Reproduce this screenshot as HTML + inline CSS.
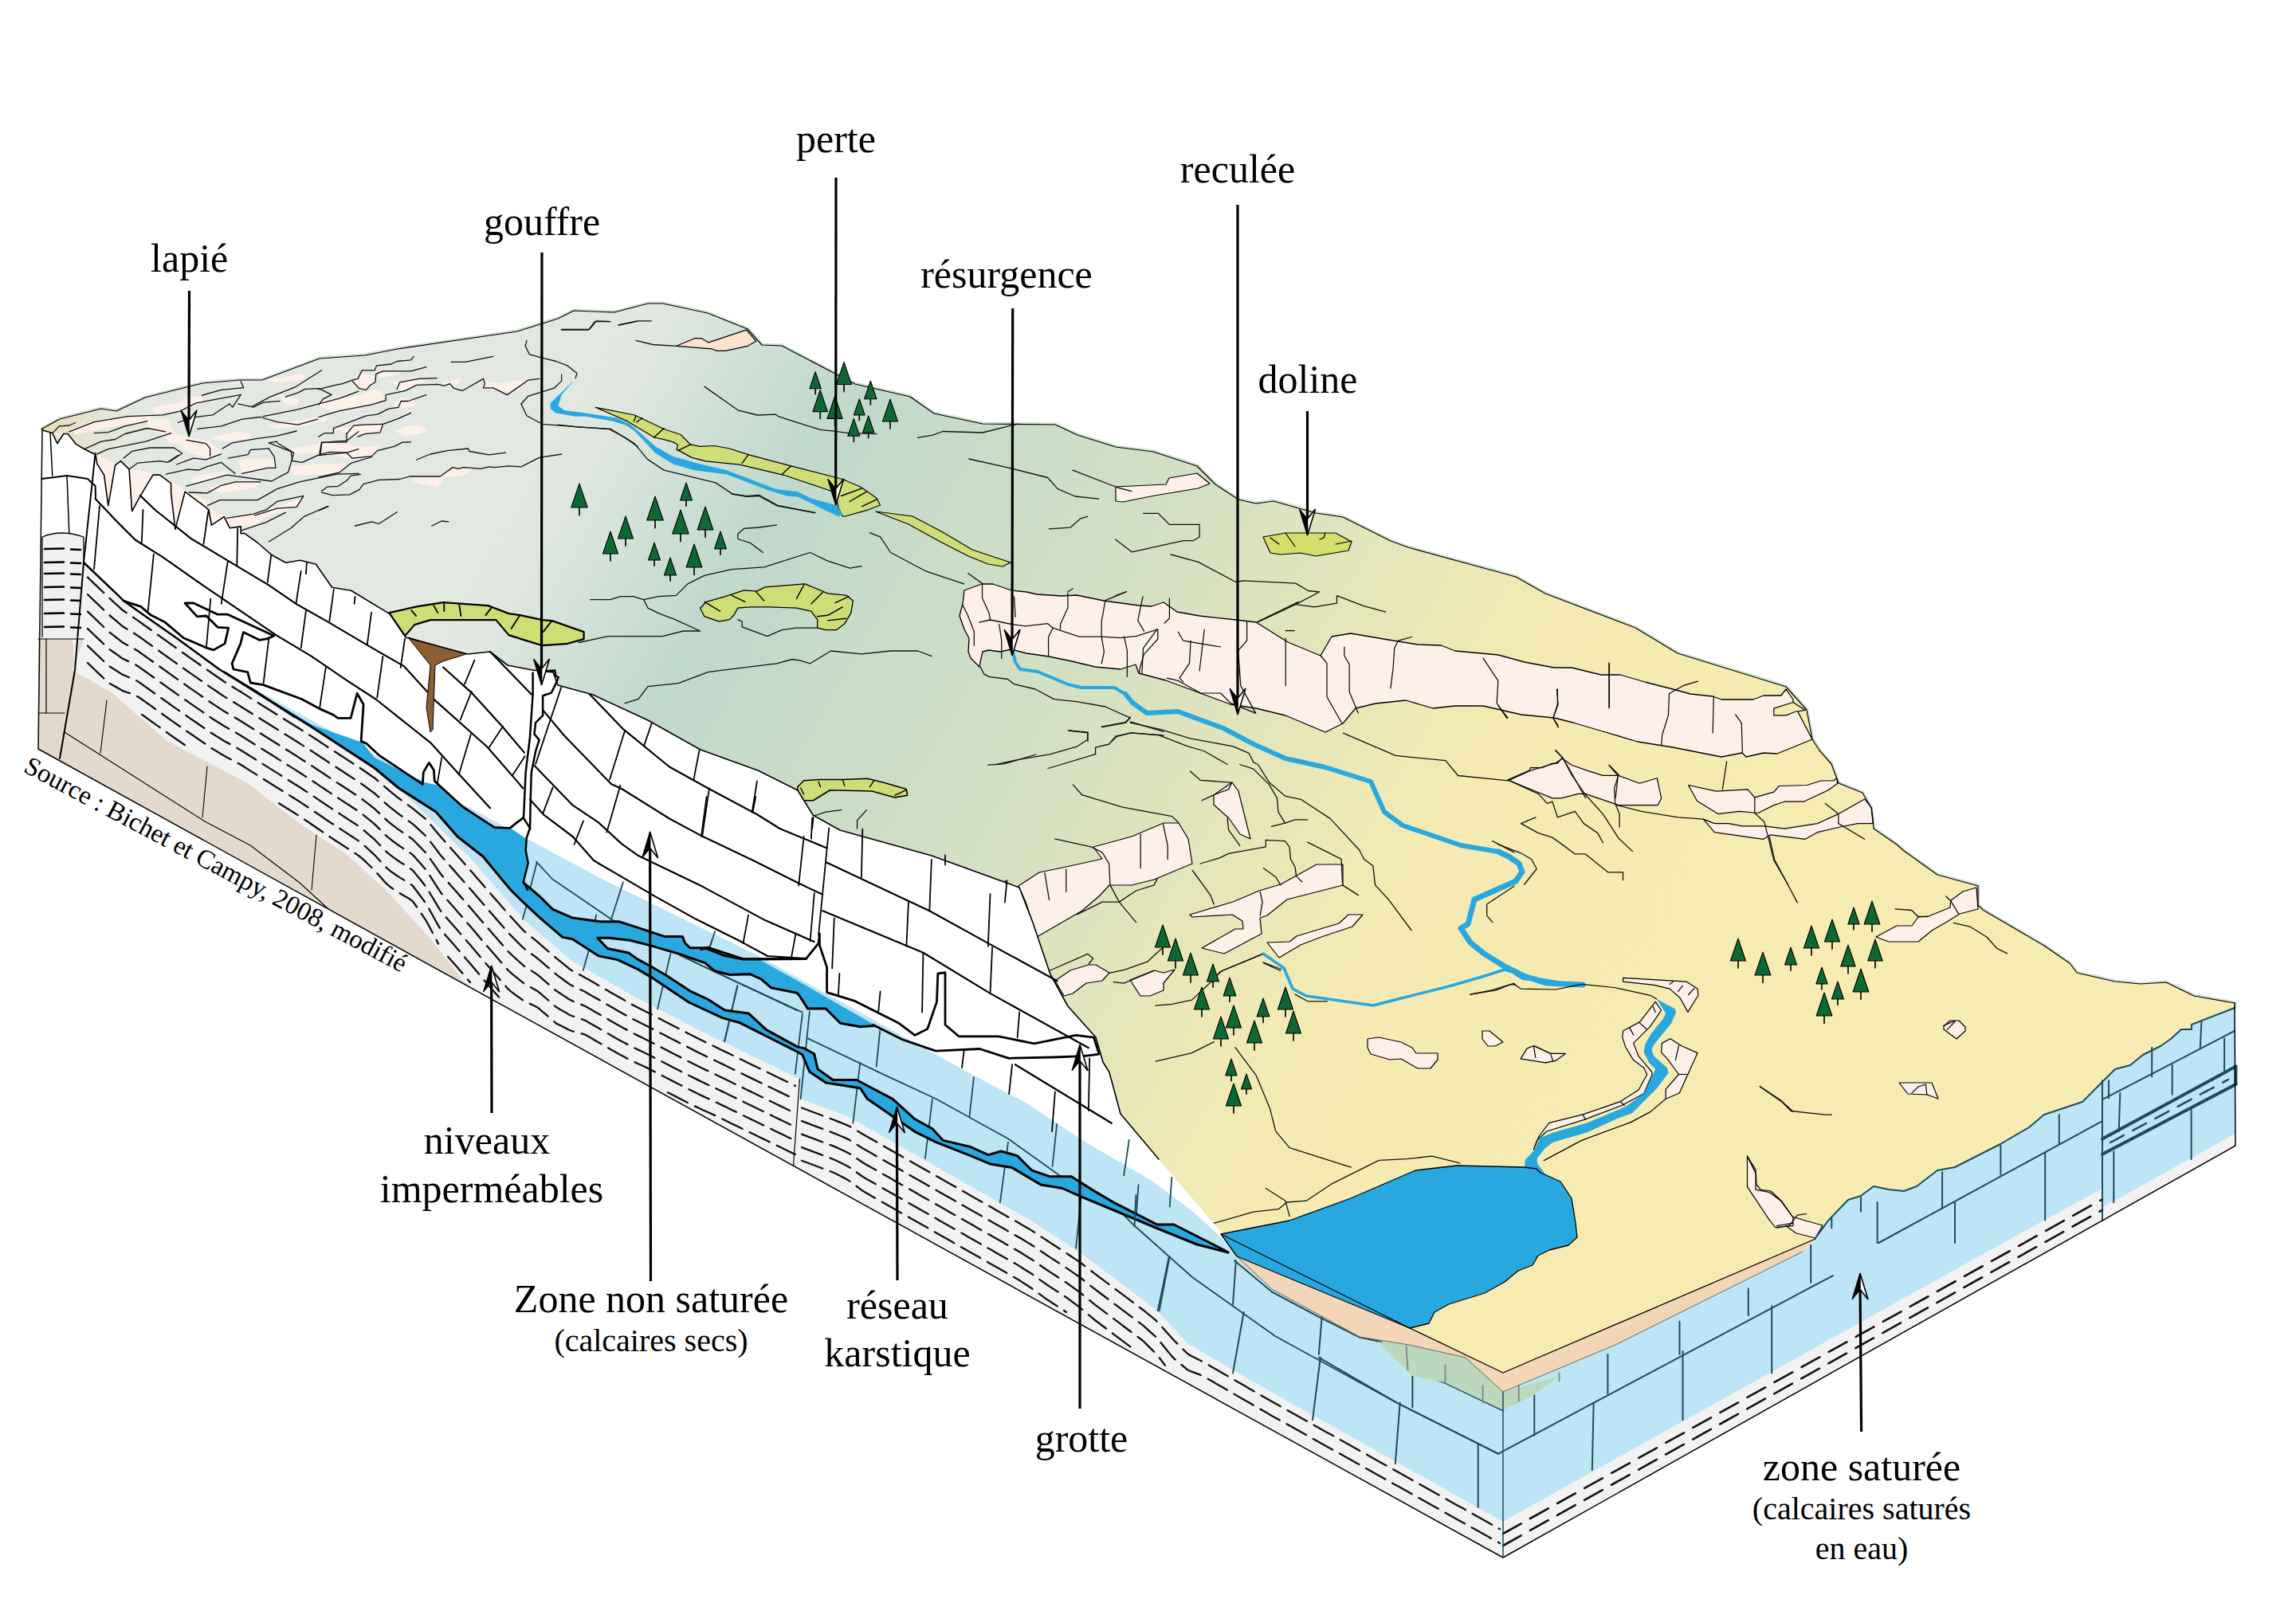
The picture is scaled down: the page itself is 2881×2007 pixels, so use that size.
<!DOCTYPE html>
<html><head><meta charset="utf-8"><style>
html,body{margin:0;padding:0;background:#fff;overflow:hidden}
svg{display:block}
text{font-family:"Liberation Serif",serif;fill:#000}
</style></head><body>
<svg xmlns="http://www.w3.org/2000/svg" width="2881" height="2007" viewBox="0 0 2881 2007">
<defs>
<linearGradient id="gs" gradientUnits="userSpaceOnUse" x1="560" y1="420" x2="2150" y2="1330"><stop offset="0" stop-color="#e3e9e2"/><stop offset="0.12" stop-color="#e1e8e0"/><stop offset="0.25" stop-color="#bfd9cc"/><stop offset="0.5" stop-color="#d4e0c2"/><stop offset="0.76" stop-color="#f5ebb2"/><stop offset="1" stop-color="#f6ecb1"/></linearGradient>
<linearGradient id="gy" gradientUnits="userSpaceOnUse" x1="60" y1="515" x2="200" y2="540"><stop offset="0" stop-color="#e9dcb4" stop-opacity="0.95"/><stop offset="1" stop-color="#e3e8df" stop-opacity="0"/></linearGradient>
</defs>
<polygon points="53,538 75,526 127,513 146,516 182,499 254,481 301,477 329,477 401,450 458,446 499,438 649,416 700,400 720,390 771,392 813,381 832,381 888,393 938,413 956,433 981,434 1048,469 1073,482 1142,498 1172,519 1233,532 1324,533 1352,546 1400,561 1447,567 1502,585 1525,608 1554,627 1576,632 1598,629 1651,644 1685,649 1745,679 1767,687 1902,724 1939,745 2052,788 2105,820 2241,862 2267,891 2274,928 2283,942 2298,959 2307,983 2337,995 2348,1014 2351,1040 2380,1060 2389,1068 2431,1098 2482,1112 2482,1136 2488,1142 2565,1187 2597,1209 2606,1221 2654,1232 2686,1235 2718,1233 2753,1250 2804,1259 2804,1265 2750,1286 2750,1292 2737,1292 2724,1304 2711,1313 2689,1324 2673,1337 2654,1342 2641,1355 2613,1383 2565,1399 2546,1415 2510,1436 2453,1465 2431,1469 2405,1489 2389,1495 2370,1493 2351,1489 2335,1501 2319,1506 2294,1532 2278,1554 2278,1555 1886,1723 1768,1667 1552,1577 1552,1577 1537,1552 1454,1455 1406,1398 1392,1346 1384,1333 1375,1302 1340,1263 1318,1223 1296,1158 1279,1114 1169,1074 1054,1042 1020,1023 1001,992 951,967 879,941 813,904 744,872 700,860 694,844 668,841 637,835 615,818 587,821 509,800 488.7,770.4 440.6,741.3 416.6,737.3 396.5,708.3 376.5,703.3 358.5,706.3 340.4,696.2 323,681 306.4,669.2 302.2,669.7 302.2,660.9 288.2,662.7 281.2,648.7 265.4,659.2 261.9,639.9 253.2,632.9 232.1,617.2 219.9,664.4 214.6,618.9 214.6,606.7 200.6,596.1 191.9,596.1 176.1,622.4 165.6,641.7 162.1,589.1 151.6,578.6 144.6,583.9 135.8,634.7 130.6,596.1 121.8,582.1 120,570.8 106,563.7 95.5,557.6 85,544.5 79.8,544.5 71.9,556.7 65.8,543.6 53.5,540.1" fill="url(#gs)" stroke="#cfe0d0" stroke-width="5" stroke-linejoin="round" />
<polygon points="53,538 75,526 127,513 146,516 182,499 254,481 301,477 329,477 401,450 458,446 499,438 649,416 700,400 720,390 771,392 813,381 832,381 888,393 938,413 956,433 981,434 1048,469 1073,482 1142,498 1172,519 1233,532 1324,533 1352,546 1400,561 1447,567 1502,585 1525,608 1554,627 1576,632 1598,629 1651,644 1685,649 1745,679 1767,687 1902,724 1939,745 2052,788 2105,820 2241,862 2267,891 2274,928 2283,942 2298,959 2307,983 2337,995 2348,1014 2351,1040 2380,1060 2389,1068 2431,1098 2482,1112 2482,1136 2488,1142 2565,1187 2597,1209 2606,1221 2654,1232 2686,1235 2718,1233 2753,1250 2804,1259 2804,1265 2750,1286 2750,1292 2737,1292 2724,1304 2711,1313 2689,1324 2673,1337 2654,1342 2641,1355 2613,1383 2565,1399 2546,1415 2510,1436 2453,1465 2431,1469 2405,1489 2389,1495 2370,1493 2351,1489 2335,1501 2319,1506 2294,1532 2278,1554 2278,1555 1886,1723 1768,1667 1552,1577 1552,1577 1537,1552 1454,1455 1406,1398 1392,1346 1384,1333 1375,1302 1340,1263 1318,1223 1296,1158 1279,1114 1169,1074 1054,1042 1020,1023 1001,992 951,967 879,941 813,904 744,872 700,860 694,844 668,841 637,835 615,818 587,821 509,800 488.7,770.4 440.6,741.3 416.6,737.3 396.5,708.3 376.5,703.3 358.5,706.3 340.4,696.2 323,681 306.4,669.2 302.2,669.7 302.2,660.9 288.2,662.7 281.2,648.7 265.4,659.2 261.9,639.9 253.2,632.9 232.1,617.2 219.9,664.4 214.6,618.9 214.6,606.7 200.6,596.1 191.9,596.1 176.1,622.4 165.6,641.7 162.1,589.1 151.6,578.6 144.6,583.9 135.8,634.7 130.6,596.1 121.8,582.1 120,570.8 106,563.7 95.5,557.6 85,544.5 79.8,544.5 71.9,556.7 65.8,543.6 53.5,540.1" fill="url(#gs)" stroke="none" stroke-width="0" stroke-linejoin="round" />
<polygon points="53,538 75,526 127,513 146,516 182,499 254,481 301,477 300,520 200,560 119,570 53,541" fill="url(#gy)" stroke="none" stroke-width="0" stroke-linejoin="round" />
<polygon points="190.1,512.1 225.1,505.1 233.9,498.1 253.1,498.1 254.9,505.1 228.6,515.6 195.3,519.1" fill="#fdf0e8" stroke="none" stroke-width="0" stroke-linejoin="round" />
<polygon points="184.8,526.1 211.1,526.1 218.1,543.6 235.6,548.8 263.6,554.1 277.6,568.1 261.9,575.1 235.6,568.1 225.1,557.6 211.1,555.8 205.8,545.3 186.6,540.1" fill="#fdf0e8" stroke="none" stroke-width="0" stroke-linejoin="round" />
<polygon points="261.9,550.6 281.1,545.3 298.7,541.8 314.4,545.3 312.7,550.6 282.9,554.1" fill="#fdf0e8" stroke="none" stroke-width="0" stroke-linejoin="round" />
<polygon points="333.7,477 351.2,473.5 379.2,469.2 382.7,475.3 377.5,477.9 344.2,480.6" fill="#fdf0e8" stroke="none" stroke-width="0" stroke-linejoin="round" />
<polygon points="335.4,534.8 365.2,529.6 400.2,522.6 412.5,526.1 382.7,534.8 347.7,538.3" fill="#fdf0e8" stroke="none" stroke-width="0" stroke-linejoin="round" />
<polygon points="347.7,494.6 375.7,501.6 372.2,509.4 358.2,506.8" fill="#fdf0e8" stroke="none" stroke-width="0" stroke-linejoin="round" />
<polygon points="405.5,501.6 435.2,498.1 449.9,499.8 449.9,505.1 428.2,506.8 407.2,505.1" fill="#fdf0e8" stroke="none" stroke-width="0" stroke-linejoin="round" />
<polygon points="298.7,578.6 319.7,575.1 344.2,576.9 345.9,585.6 303.9,592.6" fill="#fdf0e8" stroke="none" stroke-width="0" stroke-linejoin="round" />
<polygon points="366.9,562.9 400.2,557.6 435.2,558.5 449.9,561.1 449.9,573.4 435.2,575.1 409,568.1 368.7,569.9" fill="#fdf0e8" stroke="none" stroke-width="0" stroke-linejoin="round" />
<polygon points="242.6,597.9 284.6,590.9 286.4,596.1 260.1,603.1 239.1,610.1" fill="#fdf0e8" stroke="none" stroke-width="0" stroke-linejoin="round" />
<polygon points="260.1,611.9 295.2,604.9 326.7,606.6 319.7,611.9 277.6,618.9" fill="#fdf0e8" stroke="none" stroke-width="0" stroke-linejoin="round" />
<polygon points="365.2,585.6 400.2,582.1 433.5,582.1 431.7,589.1 391.5,596.1 366.9,596.1" fill="#fdf0e8" stroke="none" stroke-width="0" stroke-linejoin="round" />
<polygon points="282.9,650.4 307.4,645.2 330.2,641.7 365.2,629.4 379.2,625.9 374,636.4 340.7,645.2 317.9,659.2 289.9,662.7" fill="#fdf0e8" stroke="none" stroke-width="0" stroke-linejoin="round" />
<polygon points="235.6,617.1 254.9,625.9 267.1,632.9 256.6,636.4 242.6,627.6" fill="#fdf0e8" stroke="none" stroke-width="0" stroke-linejoin="round" />
<polygon points="64,543.6 85,543.6 99,561.1 120,570.7 144.6,582.1 162.1,589.1 183.1,592.6 200.6,596.1 225.1,610.1 253.1,632.9 282.9,648.7 302.2,660.9 288.1,662.7 265.4,659.2 261.9,639.9 232.1,617.1 219.9,664.4 214.6,618.9 214.6,606.6 200.6,596.1 191.8,596.1 176.1,622.4 165.6,641.7 162.1,589.1 151.6,578.6 144.6,583.9 135.8,634.6 130.6,596.1 121.8,582.1 120,570.7 99,561.1" fill="#fdf0e8" stroke="none" stroke-width="0" stroke-linejoin="round" />
<polygon points="90.3,538.3 120,529.6 155.1,522.6 190.1,520.8 188.3,529.6 155.1,533.1 120,540.1 93.8,545.3" fill="#fdf0e8" stroke="none" stroke-width="0" stroke-linejoin="round" />
<polygon points="447.3,471.1 457.8,469.3 470,472.8 470.9,479.8 464.8,483.3 459.5,489.4 450.8,487.7 443.8,478.9" fill="#fdf0e8" stroke="none" stroke-width="0" stroke-linejoin="round" />
<polygon points="473.5,467.6 505.1,465.8 501.6,469.3 477,474.6" fill="#fdf0e8" stroke="none" stroke-width="0" stroke-linejoin="round" />
<polygon points="489.3,478.1 498.1,484.2 498.1,488.6 508.6,490.3 522.6,483.3 536.6,477.2 522.6,476.3 503.3,478.9" fill="#fdf0e8" stroke="none" stroke-width="0" stroke-linejoin="round" />
<polygon points="401.8,502.6 417.5,503.5 433.3,500.8 445.5,497.3 470,489.4 478.8,492.1 482.3,500.8 466.5,507.8 426.3,515.7 410.5,514.8 401.8,509.6" fill="#fdf0e8" stroke="none" stroke-width="0" stroke-linejoin="round" />
<polygon points="492.8,506.1 503.3,499.1 519.1,502.6 520.8,509.6 508.6,512.2 494.6,510.5" fill="#fdf0e8" stroke="none" stroke-width="0" stroke-linejoin="round" />
<polygon points="554.1,479.8 578.6,475.4 571.6,485.1 564.6,481.6 557.6,484.2" fill="#fdf0e8" stroke="none" stroke-width="0" stroke-linejoin="round" />
<polygon points="608.4,478.1 627.6,481.6 648.7,477.2 659.2,479.8 638.1,492.1 618.9,488.6 606.6,486.8" fill="#fdf0e8" stroke="none" stroke-width="0" stroke-linejoin="round" />
<polygon points="400,523.6 412.3,524.5 403.5,530.6" fill="#fdf0e8" stroke="none" stroke-width="0" stroke-linejoin="round" />
<polygon points="419.3,537.6 435,544.6 435,548.1 443.8,546.4 477,542.9 480.6,532.3 457.8,534.1 443.8,535.8" fill="#fdf0e8" stroke="none" stroke-width="0" stroke-linejoin="round" />
<polygon points="496.3,541.1 508.6,535 527.8,534.1 536.6,541.1 526.1,544.6 506.8,548.1" fill="#fdf0e8" stroke="none" stroke-width="0" stroke-linejoin="round" />
<polygon points="400,555.1 435,555.1 445.5,562.1 475.3,559.5 466.5,572.6 442,575.2 435,568.2 414,567.4 400,569.1" fill="#fdf0e8" stroke="none" stroke-width="0" stroke-linejoin="round" />
<polygon points="400,584 433.3,581.4 426.3,592.8 400,597.1" fill="#fdf0e8" stroke="none" stroke-width="0" stroke-linejoin="round" />
<polygon points="513.8,598.9 552.3,598 568.1,587.5 592.6,588.4 582.1,597.1 557.6,598.9 548.8,612 522.6,605.9" fill="#fdf0e8" stroke="none" stroke-width="0" stroke-linejoin="round" />
<polygon points="848.8,434.3 871.6,424.7 880.4,424.7 889.1,429.9 936.4,414.1 948.7,428.2 938.1,434.3 910.1,440.4 899.6,440.4 892.6,437.8" fill="#fde3cc" stroke="#000" stroke-width="1.2" stroke-linejoin="round" />
<polygon points="1400,611 1463,608 1467,600 1502,594 1518,607 1503,613 1449,622 1409,630 1400,629" fill="#fdf0e8" stroke="#000" stroke-width="1.2" stroke-linejoin="round" />
<polygon points="1278,1112 1304,1095 1338,1088 1383,1078 1372,1063 1420,1050 1460,1033 1479,1033 1491,1053 1496,1084 1448,1104 1420,1111 1392,1111 1380,1124 1358,1143 1301,1176 1287,1132" fill="#fdf0e8" stroke="#000" stroke-width="1.2" stroke-linejoin="round" />
<polygon points="1523,998 1546,982 1554,993 1569,1053 1556,1047 1542,1027 1523,1010" fill="#fdf0e8" stroke="#000" stroke-width="1.2" stroke-linejoin="round" />
<polygon points="1493,1148 1547,1132 1580,1118 1607,1110 1652,1085 1685,1085 1685,1111 1658,1118 1615,1129 1590,1149 1581,1152 1583,1172 1536,1197 1508,1190 1550,1166 1560,1166 1559,1156 1546,1148 1496,1151" fill="#fdf0e8" stroke="#000" stroke-width="1.2" stroke-linejoin="round" />
<polygon points="1590,1183 1618,1182 1627,1175 1680,1159 1692,1148 1710,1148 1697,1163 1658,1176 1632,1186 1605,1202" fill="#fdf0e8" stroke="#000" stroke-width="1.2" stroke-linejoin="round" />
<polygon points="1324,1231 1343,1218 1366,1211 1375,1211 1392,1221 1383,1231 1363,1234 1346,1247 1335,1250" fill="#fdf0e8" stroke="#000" stroke-width="1.2" stroke-linejoin="round" />
<polygon points="1418,1230 1448,1218 1460,1221 1474,1217 1460,1234 1460,1243 1443,1250 1431,1250" fill="#fdf0e8" stroke="#000" stroke-width="1.2" stroke-linejoin="round" />
<polygon points="1716,1304 1730,1302 1758,1308 1772,1315 1777,1322 1804,1322 1804,1330 1795,1341 1779,1341 1758,1329 1744,1330 1720,1323 1716,1315" fill="#fdf0e8" stroke="#000" stroke-width="1.2" stroke-linejoin="round" />
<polygon points="1860,1294 1869,1294 1886,1308 1876,1313 1867,1313 1860,1304" fill="#fdf0e8" stroke="#000" stroke-width="1.2" stroke-linejoin="round" />
<polygon points="1909,1329 1919,1315 1926,1313 1947,1323 1963,1323 1947,1332 1940,1334 1919,1323" fill="#fdf0e8" stroke="#000" stroke-width="1.2" stroke-linejoin="round" />
<polygon points="2354,1176 2380,1162 2399,1162 2407,1151 2420,1150 2447,1139 2448,1130 2463,1119 2480,1114 2482,1141 2459,1147 2443,1157 2424,1168 2407,1182 2370,1182" fill="#fdf0e8" stroke="#000" stroke-width="1.2" stroke-linejoin="round" />
<polygon points="2439,1288 2447,1281 2458,1281 2466,1289 2466,1294 2455,1304 2439,1292" fill="#fdf0e8" stroke="#000" stroke-width="1.2" stroke-linejoin="round" />
<polygon points="2383,1359 2424,1359 2432,1379 2418,1374 2394,1373" fill="#fdf0e8" stroke="#000" stroke-width="1.2" stroke-linejoin="round" />
<polygon points="2193,1452 2203,1468 2204,1487 2209,1493 2222,1495 2236,1508 2249,1527 2265,1532 2287,1538 2278,1554 2254,1548 2236,1535 2219,1519 2207,1506 2193,1490" fill="#fdf0e8" stroke="#000" stroke-width="1.2" stroke-linejoin="round" />
<polygon points="2192.5,1451.2 2203,1472.2 2203,1493.2 2220.5,1496.7 2234.5,1507.2 2249.9,1528.2 2249.9,1538.7 2227.5,1540.5 2220.5,1531.7 2206.5,1510.7 2192.5,1489.7" fill="#fdf0e8" stroke="#000" stroke-width="1.2" stroke-linejoin="round" />
<polygon points="1210,741 1232,733 1246,733 1269,741 1288,743 1301,746 1332,748 1351,747 1385,754 1429,760 1445,761 1460,756 1477,768 1505,773 1551,778 1576,781 1616,806 1657,823 1671,799 1695,795 1742,803 1779,809 1808,810 1826,817 1880,822 1913,831 1950,838 1972,838 2009,847 2033,847 2064,856 2099,865 2121,871 2149,874 2160,878 2200,878 2213,873 2235,873 2241,865 2250,878 2250,882 2274,928 2252,937 2230,946 2213,945 2191,950 2186,945 2160,950 2099,938 2055,931 2011,918 1974,907 1950,901 1909,897 1861,886 1826,886 1798,889 1764,879 1726,883 1701,889 1685,908 1663,919 1613,898 1576,889 1544,884 1463,854 1429,845 1425,834 1406,840 1374,837 1345,830 1316,824 1288,820 1269,815 1255,818 1241,816 1233,818 1230,831 1229,837 1218,826 1215,818 1216,801 1210,790 1204,773 1208,758" fill="#fdf0e8" stroke="#000" stroke-width="1.3" stroke-linejoin="round" />
<polygon points="2225.8,889.1 2249.9,881.5 2265.2,891.3 2252.1,893.5 2241.2,897.9 2225.8,897.9" fill="#f4ebb3" stroke="#000" stroke-width="1.2" stroke-linejoin="round" />
<polygon points="1892,978.9 1919.4,966.8 1920.5,963.6 1934.7,963.6 1947.9,958.1 1954.4,958.1 1959.9,951.5 1971.9,960.3 1993.8,967.9 2011.3,973.4 2031,973.4 2057.3,983.3 2079.2,976.7 2084.7,1001.9 2080.3,1010.6 2031,1010.6 1989.4,996.4 1980.7,996.4 1958.8,1001.9 1947.9,1001.9 1923.8,992" fill="#fdf0e8" stroke="#000" stroke-width="1.2" stroke-linejoin="round" />
<polygon points="2118.6,985.5 2153.6,993.1 2193,990.9 2201.8,1000.8 2225.8,994.2 2232.4,986.5 2267.4,985.5 2284.9,980 2300.3,980 2304.6,976.7 2305.7,983.3 2293.7,992 2263.1,1006.2 2239,1006.2 2225.8,1010.6 2206.1,1020.5 2182.1,1018.3 2155.8,1021.6 2129.5,1005.2" fill="#fdf0e8" stroke="#000" stroke-width="1.2" stroke-linejoin="round" />
<polygon points="2137.2,1028.1 2151.4,1033.6 2168.9,1033.6 2186.4,1036.9 2213.8,1036.9 2239,1040.2 2280.6,1033.6 2306.8,1021.6 2339.7,1003 2348.4,1013.9 2350.6,1033.6 2330.9,1033.6 2309,1038 2280.6,1044.6 2265.2,1053.3 2221.5,1047.8 2212.7,1053.3 2151.4,1044.6" fill="#fdf0e8" stroke="#000" stroke-width="1.2" stroke-linejoin="round" />
<polyline points="2019,832.2 2019,889.1" fill="none" stroke="#000" stroke-width="1.2" stroke-linejoin="round" stroke-linecap="round" />
<polyline points="1954.4,865.1 1954.4,883.7 1948.9,901.2 1955.5,913.2" fill="none" stroke="#000" stroke-width="1.2" stroke-linejoin="round" stroke-linecap="round" />
<polyline points="1880,885.9 1892,901.2" fill="none" stroke="#000" stroke-width="1.2" stroke-linejoin="round" stroke-linecap="round" />
<polyline points="2130.6,855.2 2112,860.7 2094.5,870.5 2093.4,897.9 2085.8,922 2084.7,935.1" fill="none" stroke="#000" stroke-width="1.2" stroke-linejoin="round" stroke-linecap="round" />
<polyline points="2150.3,873.8 2149.2,919.8" fill="none" stroke="#000" stroke-width="1.2" stroke-linejoin="round" stroke-linecap="round" />
<polyline points="2177.7,896.8 2185.3,907.7 2186.4,945" fill="none" stroke="#000" stroke-width="1.2" stroke-linejoin="round" stroke-linecap="round" />
<polyline points="1467.4,750.9 1467.4,776 1461.1,782.2" fill="none" stroke="#000" stroke-width="1.2" stroke-linejoin="round" stroke-linecap="round" />
<polyline points="1451.7,790.1 1434.5,813.6 1432.9,844.9" fill="none" stroke="#000" stroke-width="1.2" stroke-linejoin="round" stroke-linecap="round" />
<polyline points="1478.4,793.2 1484.7,804.2 1531.7,812" fill="none" stroke="#000" stroke-width="1.2" stroke-linejoin="round" stroke-linecap="round" />
<polyline points="1511.3,790.1 1505.1,841.8" fill="none" stroke="#000" stroke-width="1.2" stroke-linejoin="round" stroke-linecap="round" />
<polyline points="1494.1,804.2 1492.5,832.4 1480,851.2 1484.7,855.9" fill="none" stroke="#000" stroke-width="1.2" stroke-linejoin="round" stroke-linecap="round" />
<polyline points="1564.6,780.7 1564.6,804.2 1553.7,816.7 1556.8,860.6 1575.6,895.1" fill="none" stroke="#000" stroke-width="1.2" stroke-linejoin="round" stroke-linecap="round" />
<polyline points="1613.2,791.6 1624.2,791.6" fill="none" stroke="#000" stroke-width="1.2" stroke-linejoin="round" stroke-linecap="round" />
<polyline points="1613.2,801 1613.2,860.6" fill="none" stroke="#000" stroke-width="1.2" stroke-linejoin="round" stroke-linecap="round" />
<polyline points="1577.2,780.7 1628.9,755.6" fill="none" stroke="#000" stroke-width="1.2" stroke-linejoin="round" stroke-linecap="round" />
<polyline points="1657.1,823 1665,832.4 1665,874.7 1683.8,907.7" fill="none" stroke="#000" stroke-width="1.2" stroke-linejoin="round" stroke-linecap="round" />
<polyline points="1686.9,812 1686.9,823 1693.2,834 1693.2,868.5 1704.2,895.1" fill="none" stroke="#000" stroke-width="1.2" stroke-linejoin="round" stroke-linecap="round" />
<polyline points="1771.6,799.5 1754.4,804.2 1749.7,813.6 1748.1,838.7 1744.9,863.8" fill="none" stroke="#000" stroke-width="1.2" stroke-linejoin="round" stroke-linecap="round" />
<polyline points="1861,826.1 1879.8,854.4 1878.2,882.6 1890.8,901.4" fill="none" stroke="#000" stroke-width="1.2" stroke-linejoin="round" stroke-linecap="round" />
<polyline points="1953.5,865.3 1955.1,884.1 1948.8,901.4 1955.1,910.8" fill="none" stroke="#000" stroke-width="1.2" stroke-linejoin="round" stroke-linecap="round" />
<polyline points="2019.3,832.4 2019.3,887.3" fill="none" stroke="#000" stroke-width="1.2" stroke-linejoin="round" stroke-linecap="round" />
<polyline points="1464.3,851.2 1478.4,854.4 1506.6,870 1531.7,870 1544.3,882.6 1575.6,895.1" fill="none" stroke="#000" stroke-width="1.2" stroke-linejoin="round" stroke-linecap="round" />
<polyline points="65.8,543.6 74.5,534.8 86.8,534 94.7,530.5" fill="none" stroke="#111" stroke-width="1.3" stroke-linejoin="round" stroke-linecap="round" />
<polyline points="86.8,541.8 118.3,529.6 160.3,522.6 204.1,520.8 225.1,516.4 246.1,505.9 302.2,495.4" fill="none" stroke="#111" stroke-width="1.3" stroke-linejoin="round" stroke-linecap="round" />
<polyline points="118.3,543.6 135.8,542.7 156.8,534.8 184.8,528.7" fill="none" stroke="#111" stroke-width="1.3" stroke-linejoin="round" stroke-linecap="round" />
<polyline points="106,563.7 127,554.1 144.6,551.5 156.8,544.5 184.8,537.5 207.6,541.8" fill="none" stroke="#111" stroke-width="1.3" stroke-linejoin="round" stroke-linecap="round" />
<polyline points="121.8,569.9 135.8,563.7 183.1,554.1 214.6,543.6" fill="none" stroke="#111" stroke-width="1.3" stroke-linejoin="round" stroke-linecap="round" />
<polyline points="155.1,575.1 165.6,566.4 188.3,562 218.1,562 228.6,569 212.9,579.5" fill="none" stroke="#111" stroke-width="1.3" stroke-linejoin="round" stroke-linecap="round" />
<polyline points="162.1,589.1 172.6,581.2 200.6,578.6 210.2,580.4 223.4,571.6" fill="none" stroke="#111" stroke-width="1.3" stroke-linejoin="round" stroke-linecap="round" />
<polyline points="221.6,583 242.6,575.1 258.4,576.9 277.6,569.9" fill="none" stroke="#111" stroke-width="1.3" stroke-linejoin="round" stroke-linecap="round" />
<polyline points="208.5,595.2 235.6,589.1 249.6,590 260.1,585.6 277.6,580.4 295.2,594.4" fill="none" stroke="#111" stroke-width="1.3" stroke-linejoin="round" stroke-linecap="round" />
<polyline points="233.9,610.1 253.1,604.9 284.6,596.1 340.7,604 361.7,592.6 368.7,568.1 337.2,555.8 347.7,554.1" fill="none" stroke="#111" stroke-width="1.3" stroke-linejoin="round" stroke-linecap="round" />
<polyline points="237.4,618 260.1,618.9 277.6,609.3 295.2,604.9 326.7,604.9" fill="none" stroke="#111" stroke-width="1.3" stroke-linejoin="round" stroke-linecap="round" />
<polyline points="260.1,634.6 275.9,627.6 323.2,627.6 347.7,613.6 375.7,604.9 423,595.2 449.9,594.4" fill="none" stroke="#111" stroke-width="1.3" stroke-linejoin="round" stroke-linecap="round" />
<polyline points="284.6,650.4 317.9,645.2 333.7,639.9 347.7,629.4 381,622.4 372.2,636.4 347.7,638.1 319.7,646.9" fill="none" stroke="#111" stroke-width="1.3" stroke-linejoin="round" stroke-linecap="round" />
<polyline points="302.2,666.2 333.7,655.7 358.2,643.4" fill="none" stroke="#111" stroke-width="1.3" stroke-linejoin="round" stroke-linecap="round" />
<polyline points="337.2,680 365.2,662.7 381,648.7 410.7,635.5" fill="none" stroke="#111" stroke-width="1.3" stroke-linejoin="round" stroke-linecap="round" />
<polyline points="233.9,552.3 258.4,556.7 263.6,562.9 263.6,572.5" fill="none" stroke="#111" stroke-width="1.3" stroke-linejoin="round" stroke-linecap="round" />
<polyline points="223.4,530.5 239.1,524.3 267.1,520.8 288.1,506.8 291.7,511.2 302.2,495.4" fill="none" stroke="#111" stroke-width="1.3" stroke-linejoin="round" stroke-linecap="round" />
<polyline points="247.9,538.3 277.6,534.8 303.9,526.1 326.7,523.5 347.7,529.6 374,533.1 398.5,526.1" fill="none" stroke="#111" stroke-width="1.3" stroke-linejoin="round" stroke-linecap="round" />
<polyline points="286.4,575.1 310.9,570.7 314.4,564.6 337.2,562.9 344.2,573.4 345.9,587.4 335.4,587.4 303.9,594.4" fill="none" stroke="#111" stroke-width="1.3" stroke-linejoin="round" stroke-linecap="round" />
<polyline points="298.7,506.8 317.9,511.2 330.2,505.1 351.2,503.3" fill="none" stroke="#111" stroke-width="1.3" stroke-linejoin="round" stroke-linecap="round" />
<polyline points="358.2,498.1 374,492.8 382.7,488.4 400.2,487.6 416,495.4" fill="none" stroke="#111" stroke-width="1.3" stroke-linejoin="round" stroke-linecap="round" />
<polyline points="279.4,562.9 291.7,555.8 321.4,550.6 347.7,547.1 372.2,541" fill="none" stroke="#111" stroke-width="1.3" stroke-linejoin="round" stroke-linecap="round" />
<polyline points="347.7,555.8 365.2,566.4 366.9,578.6 379.2,580.4 398.5,571.6 435.2,568.1 449.9,563.7" fill="none" stroke="#111" stroke-width="1.3" stroke-linejoin="round" stroke-linecap="round" />
<polyline points="402,571.6 403.7,555.8 419.5,554.1 435.2,553.2 449.9,541.8" fill="none" stroke="#111" stroke-width="1.3" stroke-linejoin="round" stroke-linecap="round" />
<polyline points="330.2,522.6 374,513.8 400.2,506.8 426.5,499.8 449.9,491.1" fill="none" stroke="#111" stroke-width="1.3" stroke-linejoin="round" stroke-linecap="round" />
<polyline points="316.2,510.3 338.9,498.1 370.5,485.8 403.7,464.8" fill="none" stroke="#111" stroke-width="1.3" stroke-linejoin="round" stroke-linecap="round" />
<polyline points="253.1,496.3 277.6,489.3 305.7,486.7 302.2,478.8" fill="none" stroke="#111" stroke-width="1.3" stroke-linejoin="round" stroke-linecap="round" />
<polyline points="400,488.6 417.5,484.2 429.8,481.6 442,477.2 449,475.4 454.3,464.9 470,464.9 472.7,458.8 491.1,457 498.1,453.5 515.6,451.8 519.1,447.4" fill="none" stroke="#111" stroke-width="1.3" stroke-linejoin="round" stroke-linecap="round" />
<polyline points="442,478.1 450.8,487.7 459.5,489.4 464.8,483.3 470.9,479.8 471.8,469.3 480.6,465.8 505.1,465.8 515.6,465.8 534.8,460.6" fill="none" stroke="#111" stroke-width="1.3" stroke-linejoin="round" stroke-linecap="round" />
<polyline points="498.1,488.6 501.6,479.8 526.1,475.4 548,474.6" fill="none" stroke="#111" stroke-width="1.3" stroke-linejoin="round" stroke-linecap="round" />
<polyline points="400,507.8 405.3,500.8 415.8,495.6" fill="none" stroke="#111" stroke-width="1.3" stroke-linejoin="round" stroke-linecap="round" />
<polyline points="400,523.6 410.5,520.1 426.3,515.7 466.5,507.8 484.1,502.6 484.1,495.6 508.6,490.3 522.6,483.3 548.8,482.4 557.6,484.2 564.6,481.6 569.9,487.7 580.4,490.3 606.6,475.4 608.4,481.6 606.6,486.8 618.9,486.8 636.4,495.6 662.7,477.2 676.7,475.4" fill="none" stroke="#111" stroke-width="1.3" stroke-linejoin="round" stroke-linecap="round" />
<polyline points="400,548.1 407,543.7 418.4,543.7 418.4,537.6 459.5,521.8 473.5,520.1 487.6,513.1 499.8,511.3 503.3,503.5 512.1,503.5 534.8,495.6" fill="none" stroke="#111" stroke-width="1.3" stroke-linejoin="round" stroke-linecap="round" />
<polyline points="449,548.1 457.8,544.6 477,542.9 480.6,532.3 499.8,525.3 515.6,518.3" fill="none" stroke="#111" stroke-width="1.3" stroke-linejoin="round" stroke-linecap="round" />
<polyline points="435,544.6 443.8,534.1 456,533.2 480.6,532.3" fill="none" stroke="#111" stroke-width="1.3" stroke-linejoin="round" stroke-linecap="round" />
<polyline points="403.5,555.1 435,555.1 435,543.7" fill="none" stroke="#111" stroke-width="1.3" stroke-linejoin="round" stroke-linecap="round" />
<polyline points="400,570.9 414,567.4 435,568.2 442,575.2 466.5,572.6 473.5,565.6 494.6,560.4 505.1,555.1 515.6,554.8" fill="none" stroke="#111" stroke-width="1.3" stroke-linejoin="round" stroke-linecap="round" />
<polyline points="403.5,555.1 400.9,569.1" fill="none" stroke="#111" stroke-width="1.3" stroke-linejoin="round" stroke-linecap="round" />
<polyline points="522.6,577 540.1,570 561.1,565.6 587.4,563 589.1,566.5 613.6,570.9 634.6,568.2" fill="none" stroke="#111" stroke-width="1.3" stroke-linejoin="round" stroke-linecap="round" />
<polyline points="400,598.9 426.3,592.8 440.3,581.4 466.5,573.5" fill="none" stroke="#111" stroke-width="1.3" stroke-linejoin="round" stroke-linecap="round" />
<polyline points="403.5,616.4 410.5,611.1 424.5,610.3 435,603.3 440.3,597.1 452.5,595.4" fill="none" stroke="#111" stroke-width="1.3" stroke-linejoin="round" stroke-linecap="round" />
<polyline points="403.5,618.1 417.5,621.7 438.5,620.8 450.8,614.6 456,607.6 475.3,602.4 501.6,601.5 513.8,598 552.3,598 568.1,586.6 575.1,588.4 582.1,586.6 603.1,588.4 613.6,585.8 620.6,586.6 638.1,584.9 653.9,585.8 676.7,574.4 704.7,570" fill="none" stroke="#111" stroke-width="1.3" stroke-linejoin="round" stroke-linecap="round" />
<polyline points="566.4,454.4 583.9,454.4 618.9,447.4" fill="none" stroke="#111" stroke-width="1.3" stroke-linejoin="round" stroke-linecap="round" />
<polyline points="704.7,413.3 739.7,413.3 748.5,402.8 766,403.6" fill="none" stroke="#111" stroke-width="1.3" stroke-linejoin="round" stroke-linecap="round" />
<polyline points="776.5,408 799.9,402.8" fill="none" stroke="#111" stroke-width="1.3" stroke-linejoin="round" stroke-linecap="round" />
<polyline points="660.9,427.3 659.2,434.3 664.4,444.8 680.2,449.2 697.7,453.5 711.7,458.8 724,468.4 722.2,474.6" fill="none" stroke="#111" stroke-width="1.3" stroke-linejoin="round" stroke-linecap="round" />
<polyline points="704.7,470.2 704.7,478.1 695.9,486.8 662.7,497.3 653.9,507 660.9,521.8 680.2,532.3 725.7,535.8 764.2,538.5 785.2,549.9 799.9,560.4" fill="none" stroke="#111" stroke-width="1.3" stroke-linejoin="round" stroke-linecap="round" />
<polyline points="400,640.9 412.3,635.7" fill="none" stroke="#111" stroke-width="1.3" stroke-linejoin="round" stroke-linecap="round" />
<polyline points="445.5,660 466.5,654.9 475.3,657.5 498.1,642.7" fill="none" stroke="#111" stroke-width="1.3" stroke-linejoin="round" stroke-linecap="round" />
<polyline points="541.8,660 554.1,654 562.9,654.9" fill="none" stroke="#111" stroke-width="1.3" stroke-linejoin="round" stroke-linecap="round" />
<polyline points="798.1,427.3 819.1,432.5 848.8,434.3" fill="none" stroke="#111" stroke-width="1.3" stroke-linejoin="round" stroke-linecap="round" />
<polyline points="704.4,414.1 738.5,414.1 746.4,403.6 764.8,403.6" fill="none" stroke="#111" stroke-width="1.3" stroke-linejoin="round" stroke-linecap="round" />
<polyline points="776.2,408 801.6,402.8 817.3,402.8" fill="none" stroke="#111" stroke-width="1.3" stroke-linejoin="round" stroke-linecap="round" />
<polyline points="883.9,485.1 925.9,514.8 950.4,521 973.2,520.1 976.7,522.7 1001.2,530.6 1029.2,539.3 1046.7,541.1 1064.2,543.7 1099.9,544.6" fill="none" stroke="#111" stroke-width="1.3" stroke-linejoin="round" stroke-linecap="round" />
<polyline points="700,533.2 724.5,535.8 766.5,538.5 796.3,556.9 812.1,576.1 833.1,590.1 897.9,605.9 918.9,619.9 936.4,623.4 952.2,622.5 974.9,634.8 1022.2,643.5" fill="none" stroke="#111" stroke-width="1.3" stroke-linejoin="round" stroke-linecap="round" />
<polyline points="1151.6,549.3 1170.4,546.2 1182.9,541.5 1233.1,543 1264.5,535.2 1277,532.1" fill="none" stroke="#111" stroke-width="1.3" stroke-linejoin="round" stroke-linecap="round" />
<polyline points="1215.9,576 1264.5,586.9 1314.6,599.5 1327.2,613.6 1349.1,623 1378.9,626.1" fill="none" stroke="#111" stroke-width="1.3" stroke-linejoin="round" stroke-linecap="round" />
<polyline points="1346,590.1 1402.4,612 1420,616.7" fill="none" stroke="#111" stroke-width="1.3" stroke-linejoin="round" stroke-linecap="round" />
<polyline points="1316.2,663.8 1342.9,662.2 1355.4,651.2 1364.8,648.1" fill="none" stroke="#111" stroke-width="1.3" stroke-linejoin="round" stroke-linecap="round" />
<polyline points="925.9,777.6 931.1,780.2 931.1,786.8 962.7,798.6 981.1,790.7 999.4,788.1 1025.7,788.1" fill="none" stroke="#111" stroke-width="1.3" stroke-linejoin="round" stroke-linecap="round" />
<polyline points="918,620 936.4,622.6 952.2,621.3 975.8,634.4 1023.1,643.6" fill="none" stroke="#111" stroke-width="1.3" stroke-linejoin="round" stroke-linecap="round" />
<polyline points="974.5,658.9 952.2,662 933.8,663.3 925.9,669.9 925.9,676.5 941.7,681.7 957.4,693.5" fill="none" stroke="#111" stroke-width="1.3" stroke-linejoin="round" stroke-linecap="round" />
<polyline points="740.7,752.6 765.7,752.6 778.8,748.7 794.6,748.7 807.7,752.6 826.1,748.7 848.4,747.4 862.9,732.9 883.9,722.4 918,714.6 958.7,711.9 1016.5,693.5 1038.8,704.1 1066.4,713.2 1080.9,710.6" fill="none" stroke="#111" stroke-width="1.3" stroke-linejoin="round" stroke-linecap="round" />
<polyline points="807.7,752.6 812.9,763.2 826.1,769.7 847.1,777.6 878.6,792 857.6,792 831.3,798.6 763,798.6 726.3,806.5" fill="none" stroke="#111" stroke-width="1.3" stroke-linejoin="round" stroke-linecap="round" />
<polyline points="1091.4,668.6 1104.5,673.8 1117.6,693.5 1162.3,717.2 1209.6,732.9" fill="none" stroke="#111" stroke-width="1.3" stroke-linejoin="round" stroke-linecap="round" />
<polyline points="1214.8,719.8 1233.2,732.9" fill="none" stroke="#111" stroke-width="1.3" stroke-linejoin="round" stroke-linecap="round" />
<polyline points="784.1,882.7 801.1,877.4 812.9,861.7 851,857.7 889.1,843.3 974.5,832.8 994.2,827.5 1003.4,828.8 1016.5,832.8 1042.8,817 1080.9,820.9 1117.6,817 1151.8,817 1168.9,823.6" fill="none" stroke="#111" stroke-width="1.3" stroke-linejoin="round" stroke-linecap="round" />
<polyline points="1239.8,960.2 1259.5,958.8 1277.9,953.6 1299.9,947" fill="none" stroke="#111" stroke-width="1.3" stroke-linejoin="round" stroke-linecap="round" />
<polyline points="1020.5,1024.5 1036.2,1019.2 1055.9,1016.6" fill="none" stroke="#111" stroke-width="1.3" stroke-linejoin="round" stroke-linecap="round" />
<polyline points="1087.4,1016.6 1075.6,1029.8 1075.6,1040" fill="none" stroke="#111" stroke-width="1.3" stroke-linejoin="round" stroke-linecap="round" />
<polyline points="1952.2,941.7 1961,951.5 1971.9,972.3 1989.4,997.5 2011.3,1021.6 2031,1052.2 2048.5,1068.6" fill="none" stroke="#111" stroke-width="1.3" stroke-linejoin="round" stroke-linecap="round" />
<polyline points="2019,960.3 2031,972.3 2025.6,989.8 2026.7,1008.4 2032.1,1021.6 2032.1,1038" fill="none" stroke="#111" stroke-width="1.3" stroke-linejoin="round" stroke-linecap="round" />
<polyline points="2166.7,955.9 2161.3,990.9" fill="none" stroke="#111" stroke-width="1.3" stroke-linejoin="round" stroke-linecap="round" />
<polyline points="2201.8,1000.8 2201.8,1020.5 2213.8,1031.4 2218.2,1048.9 2225.8,1079.6 2243.4,1110" fill="none" stroke="#111" stroke-width="1.3" stroke-linejoin="round" stroke-linecap="round" />
<polyline points="2290.4,1008.4 2306.8,1021.6 2306.8,1033.6 2339.7,1053.3" fill="none" stroke="#111" stroke-width="1.3" stroke-linejoin="round" stroke-linecap="round" />
<polyline points="1892,978.9 1930.3,996.4 1941.3,1008.4 1947.9,1006.2 1954.4,1025.9 1976.3,1018.3 1987.3,1033.6 2004.8,1045.6 2011.3,1057.7" fill="none" stroke="#111" stroke-width="1.3" stroke-linejoin="round" stroke-linecap="round" />
<polyline points="1927.1,1025.9 1908.5,1033.6 1930.3,1045.6 1947.9,1051.1 1963.2,1062.1 1976.3,1071.9 1989.4,1071.9 2017.9,1094.9 2036.5,1094.9 2036.5,1104.7" fill="none" stroke="#111" stroke-width="1.3" stroke-linejoin="round" stroke-linecap="round" />
<polyline points="1880,1059.9 1908.5,1070.8 1921.6,1078.5 1928.2,1090.5 1912.8,1110" fill="none" stroke="#111" stroke-width="1.3" stroke-linejoin="round" stroke-linecap="round" />
<polyline points="2028.8,1010.6 2059.5,1018.3 2105.5,1025.9 2137.2,1028.1" fill="none" stroke="#111" stroke-width="1.3" stroke-linejoin="round" stroke-linecap="round" />
<polyline points="1434.5,644.3 1453.3,644.3 1467.4,658.4 1505.1,658.4 1505.1,674 1497.2,678.7 1484.7,678.7 1420.4,692.9 1400,677.2" fill="none" stroke="#111" stroke-width="1.3" stroke-linejoin="round" stroke-linecap="round" />
<polyline points="1469,696 1503.5,705.4 1550.5,730.5 1559.9,728.9 1625.8,732.1 1641.5,741.5 1655.6,743 1625.8,758.7 1578.7,780.7" fill="none" stroke="#111" stroke-width="1.3" stroke-linejoin="round" stroke-linecap="round" />
<polyline points="1625.8,758.7 1649.3,761.8 1677.5,757.1 1677.5,747.7 1710.5,760.3 1738.7,768.1" fill="none" stroke="#111" stroke-width="1.3" stroke-linejoin="round" stroke-linecap="round" />
<polyline points="1400,747.7 1412.5,743" fill="none" stroke="#111" stroke-width="1.3" stroke-linejoin="round" stroke-linecap="round" />
<polyline points="1685.4,920.2 1751.2,948.4 1813.9,954.7 1829.6,973.5 1892.3,979.8 1920.6,967.2 1951.9,957.8 1961.3,951.6" fill="none" stroke="#111" stroke-width="1.3" stroke-linejoin="round" stroke-linecap="round" />
<polyline points="1951.9,942.2 1961.3,951.6 1989.5,1001.4" fill="none" stroke="#111" stroke-width="1.3" stroke-linejoin="round" stroke-linecap="round" />
<polyline points="2019.3,961 2030.3,973.5 2027.2,1001.4" fill="none" stroke="#111" stroke-width="1.3" stroke-linejoin="round" stroke-linecap="round" />
<polyline points="1584.8,1207.8 1607.6,1216.5" fill="none" stroke="#111" stroke-width="1.3" stroke-linejoin="round" stroke-linecap="round" />
<polyline points="1530.6,1220 1584.8,1197.3" fill="none" stroke="#111" stroke-width="1.3" stroke-linejoin="round" stroke-linecap="round" />
<polyline points="1450,1262.1 1471,1260.3 1495.5,1255.1 1523.5,1228.8 1530.6,1220" fill="none" stroke="#111" stroke-width="1.3" stroke-linejoin="round" stroke-linecap="round" />
<polyline points="1450,1332.1 1495.5,1321.6 1523.5,1307.6" fill="none" stroke="#111" stroke-width="1.3" stroke-linejoin="round" stroke-linecap="round" />
<polyline points="1549.8,1314.6 1576.1,1349.6 1593.6,1391.7 1600.6,1419.7 1618.1,1440.7 1695.2,1465.2" fill="none" stroke="#111" stroke-width="1.3" stroke-linejoin="round" stroke-linecap="round" />
<polyline points="1588.3,1491.5 1612.9,1507.2 1618.1,1526.5" fill="none" stroke="#111" stroke-width="1.3" stroke-linejoin="round" stroke-linecap="round" />
<polyline points="1523.5,1535.2 1572.6,1521.2 1604.1,1517.7 1614.6,1509 1639.1,1507.2 1670.6,1486.2 1730.2,1456.4 1765.2,1454.7 1796.7,1451.2 1831.7,1459.9" fill="none" stroke="#111" stroke-width="1.3" stroke-linejoin="round" stroke-linecap="round" />
<polyline points="1625.1,1248.1 1640.9,1256.8 1665.4,1256.8" fill="none" stroke="#111" stroke-width="1.3" stroke-linejoin="round" stroke-linecap="round" />
<polyline points="1845.7,1248.1 1877.3,1242.8 1894.8,1235.8 1901.8,1235.8" fill="none" stroke="#111" stroke-width="1.3" stroke-linejoin="round" stroke-linecap="round" />
<polyline points="2208.2,1363.6 2234.5,1381.1 2249.9,1395.2" fill="none" stroke="#111" stroke-width="1.3" stroke-linejoin="round" stroke-linecap="round" />
<polyline points="2192.5,1451.2 2203,1472.2" fill="none" stroke="#111" stroke-width="1.3" stroke-linejoin="round" stroke-linecap="round" />
<polyline points="2229.2,1538.7 2249.9,1535.2" fill="none" stroke="#111" stroke-width="1.3" stroke-linejoin="round" stroke-linecap="round" />
<polyline points="2220.2,1050 2226.5,1078.7 2255.3,1132.9" fill="none" stroke="#111" stroke-width="1.3" stroke-linejoin="round" stroke-linecap="round" />
<polyline points="2378,1140.9 2398.8,1142.5 2406.8,1150.5 2419.5,1150.5" fill="none" stroke="#111" stroke-width="1.3" stroke-linejoin="round" stroke-linecap="round" />
<polyline points="2451.4,1158.4 2472.1,1163.2 2492.9,1176 2505.6,1190.3 2518.4,1196.7" fill="none" stroke="#111" stroke-width="1.3" stroke-linejoin="round" stroke-linecap="round" />
<polyline points="2209,1364.2 2236.1,1383.3 2247.3,1394.5 2290.3,1399.2 2298.3,1399.2" fill="none" stroke="#111" stroke-width="1.3" stroke-linejoin="round" stroke-linecap="round" />
<polyline points="2438.6,1287.6 2453,1281.2" fill="none" stroke="#111" stroke-width="1.3" stroke-linejoin="round" stroke-linecap="round" />
<polyline points="2443.4,1292.4 2453,1282.2" fill="none" stroke="#111" stroke-width="1.3" stroke-linejoin="round" stroke-linecap="round" />
<polyline points="2398.8,1372.1 2406.8,1364.2 2416.3,1361 2417.9,1373.7" fill="none" stroke="#111" stroke-width="1.3" stroke-linejoin="round" stroke-linecap="round" />
<polyline points="2229.7,1541.2 2245.7,1538 2255.3,1525.2 2266.4,1523.6" fill="none" stroke="#111" stroke-width="1.3" stroke-linejoin="round" stroke-linecap="round" />
<polyline points="2441.8,1125 2448.2,1131.3 2457.8,1147.3" fill="none" stroke="#111" stroke-width="1.3" stroke-linejoin="round" stroke-linecap="round" />
<polyline points="1340.6,917 1364.7,919.8 1364.7,928.3 1351.9,936.8 1317.9,946.7 1275.5,953.8 1250,959.5" fill="none" stroke="#111" stroke-width="1.3" stroke-linejoin="round" stroke-linecap="round" />
<polyline points="1315.1,964.5 1374.6,946.7 1374.6,938.2 1391.6,934 1400,924.1 1419.9,919.8 1453.8,922.6 1490.6,936.8 1510.5,942.5 1540.2,959.5" fill="none" stroke="#111" stroke-width="1.3" stroke-linejoin="round" stroke-linecap="round" />
<polyline points="1418.4,907.1 1456.7,915.6 1493.5,926.9 1547.3,936.8 1567.1,945.3 1572.7,956.6 1578.4,959.5 1592.6,982.1 1612.4,999.1 1632.2,1003.3 1669,1027.4 1705.8,1067 1711.5,1078.4 1722.8,1086.8 1725.6,1110.9 1742.6,1129.3 1770.9,1167.5" fill="none" stroke="#111" stroke-width="1.3" stroke-linejoin="round" stroke-linecap="round" />
<polyline points="1383.1,912.7 1412.8,907.1 1418.4,900" fill="none" stroke="#111" stroke-width="1.3" stroke-linejoin="round" stroke-linecap="round" />
<polyline points="1346.3,984.9 1357.6,997.7 1408.5,1013.2 1470.8,1024.6 1479.3,1033.1" fill="none" stroke="#111" stroke-width="1.3" stroke-linejoin="round" stroke-linecap="round" />
<polyline points="1493.5,967.9 1506.2,979.3 1544.4,982.1" fill="none" stroke="#111" stroke-width="1.3" stroke-linejoin="round" stroke-linecap="round" />
<polyline points="1508.2,1004.7 1523.2,997.7 1541.6,990.6 1545.8,982.1" fill="none" stroke="#111" stroke-width="1.3" stroke-linejoin="round" stroke-linecap="round" />
<polyline points="1555.7,959.5 1572.7,965.1 1592.6,984.9 1602.5,1001.9 1603.9,1018.9 1612.4,1033.1" fill="none" stroke="#111" stroke-width="1.3" stroke-linejoin="round" stroke-linecap="round" />
<polyline points="1595.4,1037.3 1612.4,1033.1 1625.1,1028.8 1640.7,1028.8" fill="none" stroke="#111" stroke-width="1.3" stroke-linejoin="round" stroke-linecap="round" />
<polyline points="1540.2,1027.4 1541.6,1041.6 1555.7,1061.4" fill="none" stroke="#111" stroke-width="1.3" stroke-linejoin="round" stroke-linecap="round" />
<polyline points="1323.6,1052.9 1368.9,1062.8 1383.1,1069.9 1391.6,1084 1393,1110.9 1404.3,1132.1 1425.5,1157.6" fill="none" stroke="#111" stroke-width="1.3" stroke-linejoin="round" stroke-linecap="round" />
<polyline points="1506.2,1084 1530.3,1076.9 1541.6,1071.3 1588.3,1062.8 1588.3,1054.3 1612.4,1055.7 1618,1062.8 1619.4,1078.4 1625.1,1088.3 1626.5,1099.6 1633.6,1106.7" fill="none" stroke="#111" stroke-width="1.3" stroke-linejoin="round" stroke-linecap="round" />
<polyline points="1585.5,1089.7 1601,1101 1606.7,1110.9" fill="none" stroke="#111" stroke-width="1.3" stroke-linejoin="round" stroke-linecap="round" />
<polyline points="1640.7,1057.1 1663.3,1068.4 1683.1,1078.4 1684.6,1110.9 1704.4,1123.6" fill="none" stroke="#111" stroke-width="1.3" stroke-linejoin="round" stroke-linecap="round" />
<polyline points="1872.8,1055.7 1900,1069.9" fill="none" stroke="#111" stroke-width="1.3" stroke-linejoin="round" stroke-linecap="round" />
<polyline points="1872.8,1157.6 1865.7,1149.1 1865.7,1135 1900,1112.3" fill="none" stroke="#111" stroke-width="1.3" stroke-linejoin="round" stroke-linecap="round" />
<polyline points="1316.5,1218.5 1364.7,1197.3 1371.7,1202.9 1366.1,1210" fill="none" stroke="#111" stroke-width="1.3" stroke-linejoin="round" stroke-linecap="round" />
<polyline points="1391.6,1221.3 1411.4,1217.1 1439.7,1207.2 1456.7,1191.6 1459.5,1188.8" fill="none" stroke="#111" stroke-width="1.3" stroke-linejoin="round" stroke-linecap="round" />
<polyline points="1397.2,1232.6 1410,1234.1 1448.2,1218.5" fill="none" stroke="#111" stroke-width="1.3" stroke-linejoin="round" stroke-linecap="round" />
<polyline points="1496.3,1092.5 1518.9,1123.6 1523.2,1135" fill="none" stroke="#111" stroke-width="1.3" stroke-linejoin="round" stroke-linecap="round" />
<polyline points="1351.9,1147.7 1383.1,1132.1 1404.3,1132.1 1425.5,1118 1448.2,1110.9 1452.4,1102.4" fill="none" stroke="#111" stroke-width="1.3" stroke-linejoin="round" stroke-linecap="round" />
<polyline points="1528.9,1222.7 1533.1,1218.5 1584.1,1197.3" fill="none" stroke="#111" stroke-width="1.3" stroke-linejoin="round" stroke-linecap="round" />
<polyline points="1585.5,1208.6 1606.7,1218.5" fill="none" stroke="#111" stroke-width="1.3" stroke-linejoin="round" stroke-linecap="round" />
<polyline points="1844.5,1248.2 1872.8,1242.6 1900,1234.1" fill="none" stroke="#111" stroke-width="1.3" stroke-linejoin="round" stroke-linecap="round" />
<polyline points="1310.9,1095.3 1316.5,1129.3" fill="none" stroke="#111" stroke-width="1.3" stroke-linejoin="round" stroke-linecap="round" />
<polyline points="1337.8,1091.1 1337.8,1119.4" fill="none" stroke="#111" stroke-width="1.3" stroke-linejoin="round" stroke-linecap="round" />
<polyline points="1431.2,1047.2 1431.2,1089.7" fill="none" stroke="#111" stroke-width="1.3" stroke-linejoin="round" stroke-linecap="round" />
<polyline points="1459.5,1034.5 1465.2,1061.4 1465.2,1078.4" fill="none" stroke="#111" stroke-width="1.3" stroke-linejoin="round" stroke-linecap="round" />
<polyline points="1581.2,1119.4 1584.1,1132.1 1581.2,1149.1" fill="none" stroke="#111" stroke-width="1.3" stroke-linejoin="round" stroke-linecap="round" />
<polyline points="1261.3,1105.2 1261.3,1132.1" fill="none" stroke="#111" stroke-width="1.3" stroke-linejoin="round" stroke-linecap="round" />
<polyline points="1232.5,733.3 1232.5,750.6 1241.1,769.4 1242.7,778.8" fill="none" stroke="#111" stroke-width="1.3" stroke-linejoin="round" stroke-linecap="round" />
<polyline points="1228.6,781.1 1242.7,778 1269.3,783.5 1286.6,785.8 1314.8,782.7 1321.1,788.2 1354,799.2 1382.2,799.2 1405.7,800.7 1426.1,798.4 1452.8,789.8 1452.8,802.3 1435.5,821.1 1430.8,836.8 1429.3,844.6" fill="none" stroke="#111" stroke-width="1.3" stroke-linejoin="round" stroke-linecap="round" />
<polyline points="1208.2,760 1214.5,772.5 1222.3,792.9 1222.3,810.1" fill="none" stroke="#111" stroke-width="1.3" stroke-linejoin="round" stroke-linecap="round" />
<polyline points="1253.7,783.5 1256.8,803.9 1256.8,826.6" fill="none" stroke="#111" stroke-width="1.3" stroke-linejoin="round" stroke-linecap="round" />
<polyline points="1272.5,749 1274,774.1" fill="none" stroke="#111" stroke-width="1.3" stroke-linejoin="round" stroke-linecap="round" />
<polyline points="1339.9,742.7 1346.2,738.8" fill="none" stroke="#111" stroke-width="1.3" stroke-linejoin="round" stroke-linecap="round" />
<polyline points="1339.9,744.3 1339.9,763.1 1330.5,783.5 1330.5,789.8" fill="none" stroke="#111" stroke-width="1.3" stroke-linejoin="round" stroke-linecap="round" />
<polyline points="1321.1,788.2 1315.6,799.2 1315.6,823.5" fill="none" stroke="#111" stroke-width="1.3" stroke-linejoin="round" stroke-linecap="round" />
<polyline points="1386.9,753.7 1382.2,780.3 1382.2,799.2 1385.4,818 1382.2,832.9" fill="none" stroke="#111" stroke-width="1.3" stroke-linejoin="round" stroke-linecap="round" />
<polyline points="1410.5,799.2 1414.4,816.4 1414.4,849.3" fill="none" stroke="#111" stroke-width="1.3" stroke-linejoin="round" stroke-linecap="round" />
<polyline points="1434,749 1427.7,778.8 1435.5,792.1" fill="none" stroke="#111" stroke-width="1.3" stroke-linejoin="round" stroke-linecap="round" />
<polyline points="1386.9,753.7 1413.6,742.7" fill="none" stroke="#111" stroke-width="1.3" stroke-linejoin="round" stroke-linecap="round" />
<polyline points="1230.1,836.8 1234.8,846.2 1241.1,849.3 1264.6,852.5 1272.5,858.7 1299.1,865 1322.6,877.6 1350.9,880.7 1386.9,887 1418.3,901.1 1412,906.6 1382.2,912.1" fill="none" stroke="#111" stroke-width="1.3" stroke-linejoin="round" stroke-linecap="round" />
<polyline points="1418.3,905.8 1460,918.3" fill="none" stroke="#111" stroke-width="1.3" stroke-linejoin="round" stroke-linecap="round" />
<polyline points="1341.5,916.8 1365,919.1 1365,930.7" fill="none" stroke="#111" stroke-width="1.3" stroke-linejoin="round" stroke-linecap="round" />
<polyline points="1394.8,930.7 1401,924.6 1418.3,919.9 1460,923" fill="none" stroke="#111" stroke-width="1.3" stroke-linejoin="round" stroke-linecap="round" />
<polygon points="747.3,511.3 796.3,521 833.1,538.5 854.1,545.5 866.4,557.8 878.6,560.4 896.1,559.5 915.4,563 939.9,570.9 992.5,584.9 1057.3,601.5 1080,611.2 1100,625.2 1104.5,634 1088.8,640.2 1060.6,648 1057.3,648 1052,637.4 1048.5,618.2 983.7,596.3 927.7,583.2 885.6,578.8 868.1,574.4 848.9,563.9 850.6,558.6 845.4,555.1 833.1,551.6 820.8,549 787.6,528.9" fill="#cfdd76" stroke="#000" stroke-width="1.2" stroke-linejoin="round" />
<polyline points="795.4,528.8 798.1,521.8" fill="none" stroke="#000" stroke-width="1.4" stroke-linejoin="round" stroke-linecap="round" />
<polyline points="798.9,529.7 805.9,524.5" fill="none" stroke="#000" stroke-width="1.4" stroke-linejoin="round" stroke-linecap="round" />
<polyline points="820.8,549 833.1,537.6" fill="none" stroke="#000" stroke-width="1.4" stroke-linejoin="round" stroke-linecap="round" />
<polyline points="850.6,565.6 867.2,557.7" fill="none" stroke="#000" stroke-width="1.4" stroke-linejoin="round" stroke-linecap="round" />
<polyline points="931.1,581.4 939,570.9" fill="none" stroke="#000" stroke-width="1.4" stroke-linejoin="round" stroke-linecap="round" />
<polyline points="981.1,595.4 992.4,584.9" fill="none" stroke="#000" stroke-width="1.4" stroke-linejoin="round" stroke-linecap="round" />
<polyline points="1055.5,622.5 1081.7,612.9" fill="none" stroke="#000" stroke-width="1.4" stroke-linejoin="round" stroke-linecap="round" />
<polyline points="1066,629.5 1087,617.3" fill="none" stroke="#000" stroke-width="1.4" stroke-linejoin="round" stroke-linecap="round" />
<polyline points="1081.7,635.7 1099.9,626.9" fill="none" stroke="#000" stroke-width="1.4" stroke-linejoin="round" stroke-linecap="round" />
<polygon points="878.6,763.2 886.5,755.3 910.1,748.7 933.8,740.8 949.5,742.1 960,736.9 1009.9,732.9 1038.8,744.8 1062.5,747.4 1070.4,754 1067.7,769.7 1059.8,782.9 1049.3,790.7 1036.2,790.7 1025.7,788.1 1025.7,777.6 1017.8,767.1 999.4,763.2 965.3,761.8 941.7,761.8 925.9,763.2 920.6,772.3 915.4,777.6 902.3,780.2 883.9,773.7" fill="#cfdd76" stroke="#000" stroke-width="1.3" stroke-linejoin="round" />
<polyline points="883.9,755.3 903.6,767.1" fill="none" stroke="#000" stroke-width="1.4" stroke-linejoin="round" stroke-linecap="round" />
<polyline points="918,747.4 935.1,755.3" fill="none" stroke="#000" stroke-width="1.4" stroke-linejoin="round" stroke-linecap="round" />
<polyline points="948.2,742.1 958.7,754" fill="none" stroke="#000" stroke-width="1.4" stroke-linejoin="round" stroke-linecap="round" />
<polyline points="1008.6,734.3 999.4,751.3" fill="none" stroke="#000" stroke-width="1.4" stroke-linejoin="round" stroke-linecap="round" />
<polyline points="1032.3,743.5 1017.8,757.9" fill="none" stroke="#000" stroke-width="1.4" stroke-linejoin="round" stroke-linecap="round" />
<polyline points="1065.1,748.7 1048,756.6" fill="none" stroke="#000" stroke-width="1.4" stroke-linejoin="round" stroke-linecap="round" />
<polyline points="1057.2,761.8 1038.8,772.3 1025.7,773.7" fill="none" stroke="#000" stroke-width="1.4" stroke-linejoin="round" stroke-linecap="round" />
<polyline points="1061.2,776.3 1038.8,778.9" fill="none" stroke="#000" stroke-width="1.4" stroke-linejoin="round" stroke-linecap="round" />
<polygon points="1000.8,987.7 1008.6,979.8 1028.3,978.5 1057.2,978.5 1088.7,977.2 1109.8,982.5 1137.3,990.4 1138.6,998.2 1122.9,1000.9 1094,993 1041.5,991.7 1020.5,1004.8 1002.1,1004.8" fill="#cfdd76" stroke="#000" stroke-width="1.6" stroke-linejoin="round" />
<polyline points="1004.7,989 1008.6,996.9" fill="none" stroke="#000" stroke-width="1.4" stroke-linejoin="round" stroke-linecap="round" />
<polyline points="1027,981.2 1029.6,987.7" fill="none" stroke="#000" stroke-width="1.4" stroke-linejoin="round" stroke-linecap="round" />
<polyline points="1057.2,978.5 1059.8,986.4" fill="none" stroke="#000" stroke-width="1.4" stroke-linejoin="round" stroke-linecap="round" />
<polyline points="1096.6,979.8 1091.4,987.7" fill="none" stroke="#000" stroke-width="1.4" stroke-linejoin="round" stroke-linecap="round" />
<polyline points="1137.3,991.7 1122.9,998.2" fill="none" stroke="#000" stroke-width="1.4" stroke-linejoin="round" stroke-linecap="round" />
<polygon points="1099,642 1145,648 1183,668 1220,690 1250,700 1268,706 1258,711 1240,708 1215,698 1180,680 1140,658" fill="#cfdd76" stroke="#000" stroke-width="1.2" stroke-linejoin="round" />
<polygon points="1585,674 1613,669 1676,669 1696,680 1692,691 1651,698 1632,694 1607,696 1594,694" fill="#d5dd6c" stroke="#000" stroke-width="1.2" stroke-linejoin="round" />
<polyline points="1594,675 1605,683" fill="none" stroke="#000" stroke-width="1.2" stroke-linejoin="round" stroke-linecap="round" />
<polyline points="1613,669 1625,686" fill="none" stroke="#000" stroke-width="1.2" stroke-linejoin="round" stroke-linecap="round" />
<polyline points="1663,669 1661,675 1656,677" fill="none" stroke="#000" stroke-width="1.2" stroke-linejoin="round" stroke-linecap="round" />
<polyline points="1676,683 1696,679" fill="none" stroke="#000" stroke-width="1.2" stroke-linejoin="round" stroke-linecap="round" />
<polygon points="488.2,769.1 524.3,761.1 556.3,756.1 612.4,760.1 638.4,770.1 652.5,772.1 680.5,778.1 692.5,779.1 732.6,793.1 732.6,802.1 710.6,808.2 680.5,810.2 660.5,804.1 638.4,797.1 622.4,778.1 594.4,778.1 540.3,778.1 520.2,784.1 508.2,798.1" fill="#cfdd76" stroke="#000" stroke-width="2.2" stroke-linejoin="round" />
<polyline points="516.2,766.1 522.2,773.1" fill="none" stroke="#000" stroke-width="1.8" stroke-linejoin="round" stroke-linecap="round" />
<polyline points="544.3,760.1 549.3,769.1" fill="none" stroke="#000" stroke-width="1.8" stroke-linejoin="round" stroke-linecap="round" />
<polyline points="557.3,758.1 557.3,767.1" fill="none" stroke="#000" stroke-width="1.8" stroke-linejoin="round" stroke-linecap="round" />
<polyline points="576.3,759.1 578.3,773.1" fill="none" stroke="#000" stroke-width="1.8" stroke-linejoin="round" stroke-linecap="round" />
<polyline points="616.4,763.1 609.4,772.1" fill="none" stroke="#000" stroke-width="1.8" stroke-linejoin="round" stroke-linecap="round" />
<polyline points="652.5,772.1 641.5,789.1" fill="none" stroke="#000" stroke-width="1.8" stroke-linejoin="round" stroke-linecap="round" />
<polyline points="692.5,779.1 681.5,793.1" fill="none" stroke="#000" stroke-width="1.8" stroke-linejoin="round" stroke-linecap="round" />
<polygon points="720.5,477.2 704.7,495.6 700.4,509.6 708.2,514.9 735,518.4 773.6,524.5 791,532.4 808.6,548.1 822.6,560.4 843.6,572.6 875.1,581.4 911.9,590.2 973.2,613.8 1001.2,617.3 1017,625.2 1048.5,633.9 1052,637.4 1057.3,646.2 1052,648 1032.7,639.2 1001.2,623.4 987.2,622.6 962.7,614.7 911.9,595.4 871.6,590.2 845.4,583.1 822.6,569.1 796.3,541.1 785.8,534.1 770,528.9 735,522.7 722.2,522.7 697.7,518.4 690.7,513.1 690.7,506.1" fill="#29a8e0" stroke="none" stroke-width="0" stroke-linejoin="round" />
<polyline points="1271,818 1274,831 1280,840 1302,843 1340,859 1357,863 1398,863 1412,871" fill="none" stroke="#29a8e0" stroke-width="4" stroke-linejoin="round" stroke-linecap="round" />
<polyline points="1412,871 1421,882 1439,895 1478,893 1535,914 1573,934 1613,952 1663,963 1720,981 1737,1019 1760,1036 1833,1061 1880,1069" fill="none" stroke="#29a8e0" stroke-width="6" stroke-linejoin="round" stroke-linecap="round" />
<polyline points="1880,1069 1893,1075 1906,1084 1910,1094 1902,1106 1850,1129 1842,1160 1833,1165 1845,1183 1862,1197 1888,1213 1912,1225 1940,1234 1986,1236" fill="none" stroke="#29a8e0" stroke-width="7" stroke-linejoin="round" stroke-linecap="round" />
<polyline points="1585,1197 1611,1215 1622,1241 1639,1250 1723,1262 1758,1253 1818,1238 1863,1225 1888,1217 1912,1224" fill="none" stroke="#29a8e0" stroke-width="3.5" stroke-linejoin="round" stroke-linecap="round" />
<polygon points="2036.6,1227.3 2116.3,1232.2 2130.1,1241.1 2130.9,1249.3 2117.9,1270.4 2108.1,1252.5 2095.1,1241.1 2075.6,1236.3 2036.6,1232.2" fill="#fdf0e8" stroke="#000" stroke-width="1.2" stroke-linejoin="round" />
<polygon points="2085.4,1309.4 2095.9,1303.7 2109.8,1312.7 2130.1,1321.6 2117.9,1348.5 2106.5,1348.5 2093.5,1330.6 2084.6,1320.8" fill="#fdf0e8" stroke="#000" stroke-width="1.2" stroke-linejoin="round" />
<polygon points="2106.5,1348.5 2117.9,1348.5 2107.3,1372 2090.2,1379.3 2090.2,1367.2" fill="#fdf0e8" stroke="#000" stroke-width="1.2" stroke-linejoin="round" />
<polygon points="2036.6,1294 2057.7,1282.6 2077.2,1257.4 2084.6,1268 2070.7,1288.3 2049.6,1309.4 2056.1,1325.7 2072.4,1345.2 2073.2,1348.5 2062.6,1372.8 2035,1387.5 1987.8,1405.4 1940.7,1420 1928.5,1431.4 1924.4,1442.8 1930.9,1426.5 1943.9,1409.4 1986.2,1398.9 2033.3,1382.6 2056.1,1368 2066.7,1348.5 2062.6,1340.3 2049.6,1330.6 2039.8,1314.3 2035.8,1302.1" fill="#fdf0e8" stroke="#000" stroke-width="1.2" stroke-linejoin="round" />
<polygon points="1908.1,1328.9 1916.3,1315.9 1924.4,1312.7 1945.5,1322.4 1964.2,1322.4 1952,1331.4 1939,1333.8" fill="#fdf0e8" stroke="#000" stroke-width="1.2" stroke-linejoin="round" />
<polyline points="2095.1,1235.4 2099.2,1232.2" fill="none" stroke="#000" stroke-width="1.2" stroke-linejoin="round" stroke-linecap="round" />
<polyline points="2105.7,1244.4 2111.4,1237.1" fill="none" stroke="#000" stroke-width="1.2" stroke-linejoin="round" stroke-linecap="round" />
<polyline points="2118.7,1248.5 2126,1240.3" fill="none" stroke="#000" stroke-width="1.2" stroke-linejoin="round" stroke-linecap="round" />
<polyline points="2044.7,1289.9 2049.6,1298.9" fill="none" stroke="#000" stroke-width="1.2" stroke-linejoin="round" stroke-linecap="round" />
<polyline points="2056.9,1283.4 2065.9,1291.5" fill="none" stroke="#000" stroke-width="1.2" stroke-linejoin="round" stroke-linecap="round" />
<polyline points="2074,1263.1 2077.2,1270.4" fill="none" stroke="#000" stroke-width="1.2" stroke-linejoin="round" stroke-linecap="round" />
<polyline points="2033.3,1382.6 2038.2,1387.5" fill="none" stroke="#000" stroke-width="1.2" stroke-linejoin="round" stroke-linecap="round" />
<polyline points="1986.2,1398.9 1989.4,1405.4" fill="none" stroke="#000" stroke-width="1.2" stroke-linejoin="round" stroke-linecap="round" />
<polyline points="2106.5,1312.7 2102.4,1330.6" fill="none" stroke="#000" stroke-width="1.2" stroke-linejoin="round" stroke-linecap="round" />
<polyline points="1924.4,1312.7 1926.8,1327.3" fill="none" stroke="#000" stroke-width="1.2" stroke-linejoin="round" stroke-linecap="round" />
<polyline points="1945.5,1322.4 1948.8,1332.2" fill="none" stroke="#000" stroke-width="1.2" stroke-linejoin="round" stroke-linecap="round" />
<polyline points="1900,1235.4 1908.1,1241.1 1952,1242 1984.6,1235.4 2025.2,1239.5 2070.7,1249.3 2078.9,1254.1" fill="none" stroke="#000" stroke-width="1.2" stroke-linejoin="round" stroke-linecap="round" />
<polyline points="1937.4,1456.6 1984.6,1431.4 2046.3,1408.6 2070.7,1395.6 2090.2,1379.3" fill="none" stroke="#000" stroke-width="1.2" stroke-linejoin="round" stroke-linecap="round" />
<polygon points="1913,1464.7 1913.8,1455.8 1924.4,1444.4 1932.5,1428.1 1948.8,1421.6 1991.1,1409.4 2039.8,1389.1 2062.6,1372.8 2077.2,1342 2069.1,1333.8 2062.6,1320.8 2064.2,1311.1 2072.4,1296.4 2087,1278.5 2090.2,1272 2078.9,1254.1 2101.6,1266.3 2103.3,1270.4 2096.7,1285 2075.6,1311.1 2072.4,1317.6 2075.6,1325.7 2091.9,1340.3 2093.5,1346.8 2078.9,1366.3 2048,1397.2 2030.1,1403.7 1991.1,1421.6 1948.8,1433.8 1939,1441.1 1928.5,1454.1 1929.3,1460.7 1939,1473.7 1953.7,1480" fill="#29a8e0" stroke="none" stroke-width="0" stroke-linejoin="round" />
<polygon points="1900,1220 1909.8,1221.6 1932.5,1227.3 1981.3,1235.4 1943.9,1235.4 1927.6,1231.4 1911.4,1230.6 1900,1224.1" fill="#29a8e0" stroke="none" stroke-width="0" stroke-linejoin="round" />
<polyline points="53,538 75,526 127,513 146,516 182,499 254,481 301,477 329,477 401,450 458,446 499,438 649,416 700,400 720,390 771,392 813,381 832,381 888,393 938,413 956,433 981,434 1048,469 1073,482 1142,498 1172,519 1233,532 1324,533 1352,546 1400,561 1447,567 1502,585 1525,608 1554,627 1576,632 1598,629 1651,644 1685,649 1745,679 1767,687 1902,724 1939,745 2052,788 2105,820 2241,862 2267,891 2274,928 2283,942 2298,959 2307,983 2337,995 2348,1014 2351,1040 2380,1060 2389,1068 2431,1098 2482,1112 2482,1136 2488,1142 2565,1187 2597,1209 2606,1221 2654,1232 2686,1235 2718,1233 2753,1250 2804,1259" fill="none" stroke="#000" stroke-width="1.2" stroke-linejoin="round" stroke-linecap="round" />
<polygon points="53.5,540.1 65.8,543.6 71.9,556.7 79.8,544.5 85,544.5 95.5,557.6 106,563.7 120,570.8 121.8,582.1 130.6,596.1 135.8,634.7 144.6,583.9 151.6,578.6 162.1,589.1 165.6,641.7 176.1,622.4 191.9,596.1 200.6,596.1 214.6,606.7 214.6,618.9 219.9,664.4 232.1,617.2 253.2,632.9 261.9,639.9 265.4,659.2 281.2,648.7 288.2,662.7 302.2,660.9 302.2,669.7 306.4,669.2 323,681 340.4,696.2 358.5,706.3 376.5,703.3 396.5,708.3 416.6,737.3 440.6,741.3 488.7,770.4 509,800 587,821 615,818 637,835 668,841 694,844 700,860 744,872 813,904 879,941 951,967 1001,992 1020,1023 1054,1042 1169,1074 1279,1114 1296,1158 1318,1223 1340,1263 1375,1302 1384,1333 1392,1346 1406,1398 1454,1455 1537,1552 1552,1577 1886,1723 1886,1955 48,940" fill="#ffffff" stroke="none" stroke-width="0" stroke-linejoin="round" />
<polygon points="105,706 154,753 235,811 282,844 392,913 470,964 500,989 535,1015 590,1077 657,1154 716,1205 794,1250 880,1294.4 1003.4,1354.4 1004.6,1379.3 1065,1402 1295,1533 1355,1572 1452,1645 1491,1687 1600,1750 1886,1910 1886,1955 48,940 75,952 105,706" fill="#f2f2f2" stroke="none" stroke-width="0" stroke-linejoin="round" />
<polygon points="48,802 105,802 91,841 141,870 209.5,930 309.6,982.3 380,1036.6 433.7,1071.5 484.1,1117.1 539.3,1177.2 586.5,1237.4 48,940" fill="#e3d9cc" stroke="none" stroke-width="0" stroke-linejoin="round" />
<polygon points="641,1042 755,1103 950,1199 1222,1350 1287,1384 1366,1436 1444,1481 1496,1520 1530,1551 1552,1577 1886,1723 1886,1910 1600,1750 1491,1687 1452,1645 1355,1572 1295,1533 1065,1402 1004.6,1379.3 1003.4,1354.4 880,1294.4 794,1250 716,1205 657,1154 590,1077 500,989 470,964 392,913 282,844" fill="#bee5f5" stroke="none" stroke-width="0" stroke-linejoin="round" />
<polygon points="53,674 76,669 105,674 105,706 94,841 91,802 48,802" fill="#f0f0f0" stroke="none" stroke-width="0" stroke-linejoin="round" />
<path d="M53,800 L53,674 Q76,664 105,674 L105,706" fill="none" stroke="#000" stroke-width="1.3"/>
<polyline points="56,689 80,688.5" fill="none" stroke="#000" stroke-width="2.5" stroke-linejoin="round" stroke-linecap="round" />
<polyline points="89,689.5 101,690" fill="none" stroke="#000" stroke-width="2.5" stroke-linejoin="round" stroke-linecap="round" />
<polyline points="56,706 80,705.5" fill="none" stroke="#000" stroke-width="2.5" stroke-linejoin="round" stroke-linecap="round" />
<polyline points="89,706.5 101,707" fill="none" stroke="#000" stroke-width="2.5" stroke-linejoin="round" stroke-linecap="round" />
<polyline points="56,720 80,719.5" fill="none" stroke="#000" stroke-width="2.5" stroke-linejoin="round" stroke-linecap="round" />
<polyline points="89,720.5 101,721" fill="none" stroke="#000" stroke-width="2.5" stroke-linejoin="round" stroke-linecap="round" />
<polyline points="56,737 80,736.5" fill="none" stroke="#000" stroke-width="2.5" stroke-linejoin="round" stroke-linecap="round" />
<polyline points="89,737.5 101,738" fill="none" stroke="#000" stroke-width="2.5" stroke-linejoin="round" stroke-linecap="round" />
<polyline points="56,753 80,752.5" fill="none" stroke="#000" stroke-width="2.5" stroke-linejoin="round" stroke-linecap="round" />
<polyline points="89,753.5 101,754" fill="none" stroke="#000" stroke-width="2.5" stroke-linejoin="round" stroke-linecap="round" />
<polyline points="56,770 80,769.5" fill="none" stroke="#000" stroke-width="2.5" stroke-linejoin="round" stroke-linecap="round" />
<polyline points="89,770.5 101,771" fill="none" stroke="#000" stroke-width="2.5" stroke-linejoin="round" stroke-linecap="round" />
<polyline points="56,787 80,786.5" fill="none" stroke="#000" stroke-width="2.5" stroke-linejoin="round" stroke-linecap="round" />
<polyline points="89,787.5 101,788" fill="none" stroke="#000" stroke-width="2.5" stroke-linejoin="round" stroke-linecap="round" />
<polyline points="58,802 58,895" fill="none" stroke="#000" stroke-width="1.2" stroke-linejoin="round" stroke-linecap="round" />
<polyline points="48,895 81,895" fill="none" stroke="#000" stroke-width="1.2" stroke-linejoin="round" stroke-linecap="round" />
<polyline points="52.6,601 84,597 110,601 119.6,610 120,626" fill="none" stroke="#000" stroke-width="2" stroke-linejoin="round" stroke-linecap="round" />
<polyline points="63,543 65.8,597" fill="none" stroke="#000" stroke-width="1.5" stroke-linejoin="round" stroke-linecap="round" />
<polyline points="84,597 86.8,669" fill="none" stroke="#000" stroke-width="1.5" stroke-linejoin="round" stroke-linecap="round" />
<polyline points="48,802 105,802" fill="none" stroke="#000" stroke-width="1" stroke-linejoin="round" stroke-linecap="round" />
<polyline points="119.6,569 105,706 94,841 75,952" fill="none" stroke="#000" stroke-width="2" stroke-linejoin="round" stroke-linecap="round" />
<polyline points="81,919 257,1031 314,1061 376,1108 412,1141" fill="none" stroke="#000" stroke-width="1.1" stroke-linejoin="round" stroke-linecap="round" />
<polyline points="134,879 126,945" fill="none" stroke="#000" stroke-width="1.1" stroke-linejoin="round" stroke-linecap="round" />
<polyline points="260,962 254,1026" fill="none" stroke="#000" stroke-width="1.1" stroke-linejoin="round" stroke-linecap="round" />
<polyline points="397,1048 391,1117" fill="none" stroke="#000" stroke-width="1.1" stroke-linejoin="round" stroke-linecap="round" />
<polyline points="110,724.652 114,728.489 118,732.326 122,736.163 126,739.999 130,743.836 134,747.673 138,751.416 142,755.069 146,758.724 150,762.383 154,766.045 158,768.737 162,771.433 166,774.132 170,776.835 174,779.62 178,782.484 182,785.349 186,788.213 190,791.077 194,793.941 198,796.805 202,799.67 206,802.534 210,805.398 214,808.262 218,811.124 222,813.979 226,816.835 230,819.69 234,822.545 238,825.359 242,828.158 246,830.958 250,833.757 254,836.559 258,839.368 262,842.176 266,844.961 270,847.722 274,850.483 278,853.245 282,856.008 286,858.471 290,860.935 294,863.399 298,865.863 302,868.35 306,870.859 310,873.368 314,875.877 318,878.386 322,880.895 326,883.405 330,885.914 334,888.423 338,890.932 342,893.441 346,895.95 350,898.459 354,900.968 358,903.477 362,905.986 366,908.495 370,911.005 374,913.514 378,916.038 382,918.563 386,921.088 390,923.613 394,926.191 398,928.823 402,931.454 406,934.086 410,936.717 414,939.332 418,941.948 422,944.563 426,947.179 430,949.794 434,952.409 438,955.025 442,957.64 446,960.256 450,962.871 454,965.541 458,968.268 462,970.997 466,973.728 470,976.462 474,979.915 478,983.37 482,986.828 486,990.223 490,993.556 494,996.826 498,1000.1 502,1003.19 506,1006.1 510,1009.01 514,1011.92 518,1014.89 522,1018.13 526,1021.37 530,1024.62 534,1027.88 538,1032.29 542,1037.1 546,1041.92 550,1046.74 554,1051.49 558,1056 562,1060.51 566,1065.01 570,1069.52 574,1074.04 578,1078.57 582,1083.1 586,1087.62 590,1092.15 594,1096.77 598,1101.38 602,1106 606,1110.61 610,1115.22 614,1119.82 618,1124.41 622,1129.01 626,1133.61 630,1138.2 634,1142.8 638,1147.4 642,1151.82 646,1156.18 650,1160.54 654,1164.91 658,1169 662,1172.23 666,1175.47 670,1178.72 674,1181.96 678,1185.37 682,1188.83 686,1192.29 690,1195.74 694,1199.2 698,1202.66 702,1205.91 706,1209.17 710,1212.43 714,1215.69 718,1218.39 722,1220.51 726,1222.65 730,1224.78 734,1226.93 738,1229.24 742,1231.54 746,1233.85 750,1236.16 754,1238.47 758,1240.78 762,1243.08 766,1245.39 770,1247.7 774,1250.01 778,1252.3 782,1254.57 786,1256.85 790,1259.12 794,1261.4 798,1263.43 802,1265.46 806,1267.5 810,1269.53 814,1271.58 818,1273.64 822,1275.71 826,1277.78 830,1279.84 834,1281.91 838,1283.97 842,1286.04 846,1288.1 850,1290.17 854,1292.23 858,1294.3 862,1296.36 866,1298.41 870,1300.46 874,1302.51 878,1304.56 882,1306.55 886,1308.48 890,1310.41 894,1312.34 898,1314.27 902,1316.22 906,1318.16 910,1320.11 914,1322.05 918,1324 922,1325.94 926,1327.89 930,1329.83 934,1331.78 938,1333.72 942,1335.67 946,1337.61 950,1339.56 954,1341.5 958,1343.44 962,1345.39 966,1347.33 970,1349.28 974,1351.22 978,1353.17 982,1355.11 986,1357.06 990,1359 994,1360.95 998,1362.89" fill="none" stroke="#111" stroke-width="2.3" stroke-linejoin="round" stroke-linecap="round" stroke-dasharray="28 10" stroke-linecap="butt"/>
<polyline points="110,746.13 114,749.967 118,753.804 122,757.64 126,761.477 130,765.314 134,769.15 138,772.75 142,776.117 146,779.491 150,782.873 154,786.264 158,788.69 162,791.125 166,793.568 170,796.022 174,798.684 178,801.548 182,804.413 186,807.277 190,810.141 194,813.005 198,815.869 202,818.734 206,821.598 210,824.462 214,827.326 218,830.185 222,833.026 226,835.867 230,838.708 234,841.55 238,844.349 242,847.135 246,849.921 250,852.707 254,855.498 258,858.307 262,861.115 266,863.863 270,866.551 274,869.239 278,871.929 282,874.619 286,877.012 290,879.405 294,881.799 298,884.194 302,886.647 306,889.156 310,891.665 314,894.174 318,896.683 322,899.192 326,901.702 330,904.211 334,906.72 338,909.229 342,911.738 346,914.247 350,916.756 354,919.265 358,921.774 362,924.283 366,926.792 370,929.302 374,931.811 378,934.36 382,936.909 386,939.459 390,942.008 394,944.611 398,947.267 402,949.923 406,952.58 410,955.236 414,957.852 418,960.467 422,963.082 426,965.698 430,968.313 434,970.929 438,973.544 442,976.159 446,978.775 450,981.39 454,984.145 458,987.045 462,989.95 466,992.861 470,995.777 474,999.417 478,1003.06 482,1006.71 486,1010.2 490,1013.53 494,1016.71 498,1019.88 502,1022.87 506,1025.69 510,1028.5 514,1031.32 518,1034.3 522,1037.94 526,1041.6 530,1045.28 534,1048.98 538,1053.86 542,1059.13 546,1064.42 550,1069.73 554,1074.84 558,1079.35 562,1083.86 566,1088.37 570,1092.88 574,1097.41 578,1101.97 582,1106.52 586,1111.08 590,1115.64 594,1120.28 598,1124.92 602,1129.57 606,1134.21 610,1138.83 614,1143.43 618,1148.03 622,1152.62 626,1157.22 630,1161.82 634,1166.41 638,1171.01 642,1175.15 646,1179.15 650,1183.16 654,1187.17 658,1190.91 662,1193.8 666,1196.7 670,1199.61 674,1202.53 678,1205.86 682,1209.32 686,1212.77 690,1216.23 694,1219.69 698,1223.15 702,1226.08 706,1229.02 710,1231.98 714,1234.94 718,1237.35 722,1239.2 726,1241.06 730,1242.93 734,1244.82 738,1247.13 742,1249.44 746,1251.75 750,1254.05 754,1256.36 758,1258.67 762,1260.98 766,1263.29 770,1265.59 774,1267.9 778,1270.17 782,1272.39 786,1274.61 790,1276.84 794,1279.06 798,1281.04 802,1283.03 806,1285.01 810,1287 814,1289.02 818,1291.09 822,1293.15 826,1295.22 830,1297.28 834,1299.35 838,1301.41 842,1303.48 846,1305.54 850,1307.61 854,1309.67 858,1311.74 862,1313.8 866,1315.83 870,1317.86 874,1319.88 878,1321.91 882,1323.88 886,1325.78 890,1327.69 894,1329.6 898,1331.51 902,1333.45 906,1335.4 910,1337.34 914,1339.29 918,1341.23 922,1343.18 926,1345.12 930,1347.07 934,1349.01 938,1350.96 942,1352.9 946,1354.85 950,1356.79 954,1358.74 958,1360.68 962,1362.62 966,1364.57 970,1366.51 974,1368.46 978,1370.4 982,1372.35 986,1374.29 990,1376.24 994,1378.18 998,1380.13" fill="none" stroke="#111" stroke-width="2.3" stroke-linejoin="round" stroke-linecap="round" stroke-dasharray="28 10" stroke-linecap="butt"/>
<polyline points="110,767.608 114,771.444 118,775.281 122,779.118 126,782.955 130,786.791 134,790.628 138,794.083 142,797.164 146,800.258 150,803.364 154,806.483 158,808.642 162,810.816 166,813.005 170,815.208 174,817.748 178,820.612 182,823.476 186,826.341 190,829.205 194,832.069 198,834.933 202,837.797 206,840.662 210,843.526 214,846.39 218,849.245 222,852.072 226,854.9 230,857.727 234,860.555 238,863.34 242,866.112 246,868.884 250,871.656 254,874.437 258,877.246 262,880.054 266,882.765 270,885.379 274,887.995 278,890.612 282,893.231 286,895.552 290,897.875 294,900.2 298,902.526 302,904.944 306,907.453 310,909.962 314,912.471 318,914.98 322,917.49 326,919.999 330,922.508 334,925.017 338,927.526 342,930.035 346,932.544 350,935.053 354,937.562 358,940.071 362,942.58 366,945.09 370,947.599 374,950.108 378,952.681 382,955.255 386,957.829 390,960.403 394,963.031 398,965.712 402,968.393 406,971.074 410,973.755 414,976.371 418,978.986 422,981.602 426,984.217 430,986.832 434,989.448 438,992.063 442,994.679 446,997.294 450,999.909 454,1002.75 458,1005.82 462,1008.9 466,1011.99 470,1015.09 474,1018.92 478,1022.75 482,1026.59 486,1030.18 490,1033.51 494,1036.59 498,1039.66 502,1042.56 506,1045.28 510,1048 514,1050.72 518,1053.71 522,1057.75 526,1061.83 530,1065.95 534,1070.09 538,1075.42 542,1081.16 546,1086.93 550,1092.72 554,1098.2 558,1102.71 562,1107.22 566,1111.73 570,1116.24 574,1120.78 578,1125.37 582,1129.95 586,1134.54 590,1139.12 594,1143.79 598,1148.47 602,1153.14 606,1157.81 610,1162.44 614,1167.04 618,1171.64 622,1176.24 626,1180.83 630,1185.43 634,1190.03 638,1194.62 642,1198.49 646,1202.12 650,1205.77 654,1209.43 658,1212.82 662,1215.36 666,1217.93 670,1220.51 674,1223.1 678,1226.35 682,1229.8 686,1233.26 690,1236.72 694,1240.18 698,1243.64 702,1246.25 706,1248.87 710,1251.52 714,1254.19 718,1256.31 722,1257.88 726,1259.47 730,1261.08 734,1262.72 738,1265.03 742,1267.33 746,1269.64 750,1271.95 754,1274.26 758,1276.56 762,1278.87 766,1281.18 770,1283.49 774,1285.8 778,1288.03 782,1290.21 786,1292.38 790,1294.55 794,1296.73 798,1298.66 802,1300.59 806,1302.53 810,1304.47 814,1306.47 818,1308.53 822,1310.6 826,1312.66 830,1314.73 834,1316.79 838,1318.86 842,1320.92 846,1322.99 850,1325.05 854,1327.12 858,1329.18 862,1331.25 866,1333.25 870,1335.25 874,1337.26 878,1339.26 882,1341.2 886,1343.09 890,1344.97 894,1346.86 898,1348.74 902,1350.69 906,1352.63 910,1354.58 914,1356.52 918,1358.47 922,1360.41 926,1362.36 930,1364.3 934,1366.25 938,1368.19 942,1370.14 946,1372.08 950,1374.03 954,1375.97 958,1377.92 962,1379.86 966,1381.8 970,1383.75 974,1385.69 978,1387.64 982,1389.58 986,1391.53 990,1393.47 994,1395.42 998,1397.36" fill="none" stroke="#111" stroke-width="2.3" stroke-linejoin="round" stroke-linecap="round" stroke-dasharray="28 10" stroke-linecap="butt"/>
<polyline points="110,789.085 114,792.922 118,796.759 122,800.595 126,804.432 130,808.269 134,812.106 138,815.416 142,818.212 146,821.025 150,823.854 154,826.702 158,828.595 162,830.508 166,832.441 170,834.395 174,836.812 178,839.676 182,842.54 186,845.405 190,848.269 194,851.133 198,853.997 202,856.861 206,859.726 210,862.59 214,865.454 218,868.305 222,871.119 226,873.932 230,876.746 234,879.559 238,882.331 242,885.089 246,887.847 250,890.606 254,893.376 258,896.185 262,898.993 266,901.667 270,904.208 274,906.751 278,909.296 282,911.843 286,914.093 290,916.345 294,918.6 298,920.857 302,923.241 306,925.75 310,928.259 314,930.768 318,933.277 322,935.787 326,938.296 330,940.805 334,943.314 338,945.823 342,948.332 346,950.841 350,953.35 354,955.859 358,958.368 362,960.877 366,963.387 370,965.896 374,968.405 378,971.003 382,973.601 386,976.199 390,978.798 394,981.45 398,984.156 402,986.862 406,989.568 410,992.275 414,994.89 418,997.505 422,1000.12 426,1002.74 430,1005.35 434,1007.97 438,1010.58 442,1013.2 446,1015.81 450,1018.43 454,1021.35 458,1024.6 462,1027.86 466,1031.13 470,1034.41 474,1038.42 478,1042.44 482,1046.48 486,1050.16 490,1053.49 494,1056.47 498,1059.45 502,1062.25 506,1064.87 510,1067.5 514,1070.12 518,1073.12 522,1077.57 526,1082.06 530,1086.61 534,1091.2 538,1096.98 542,1103.19 546,1109.43 550,1115.7 554,1121.56 558,1126.07 562,1130.58 566,1135.09 570,1139.59 574,1144.16 578,1148.77 582,1153.38 586,1157.99 590,1162.61 594,1167.31 598,1172.01 602,1176.71 606,1181.41 610,1186.06 614,1190.65 618,1195.25 622,1199.85 626,1204.45 630,1209.04 634,1213.64 638,1218.24 642,1221.83 646,1225.1 650,1228.38 654,1231.69 658,1234.72 662,1236.93 666,1239.15 670,1241.4 674,1243.67 678,1246.84 682,1250.29 686,1253.75 690,1257.21 694,1260.67 698,1264.12 702,1266.41 706,1268.73 710,1271.07 714,1273.45 718,1275.27 722,1276.56 726,1277.87 730,1279.23 734,1280.61 738,1282.92 742,1285.23 746,1287.54 750,1289.84 754,1292.15 758,1294.46 762,1296.77 766,1299.07 770,1301.38 774,1303.69 778,1305.9 782,1308.02 786,1310.14 790,1312.27 794,1314.39 798,1316.27 802,1318.16 806,1320.04 810,1321.93 814,1323.91 818,1325.98 822,1328.04 826,1330.11 830,1332.17 834,1334.24 838,1336.3 842,1338.37 846,1340.43 850,1342.5 854,1344.56 858,1346.63 862,1348.69 866,1350.67 870,1352.65 874,1354.63 878,1356.61 882,1358.53 886,1360.39 890,1362.25 894,1364.11 898,1365.98 902,1367.92 906,1369.87 910,1371.81 914,1373.76 918,1375.7 922,1377.65 926,1379.59 930,1381.54 934,1383.48 938,1385.43 942,1387.37 946,1389.32 950,1391.26 954,1393.21 958,1395.15 962,1397.1 966,1399.04 970,1400.98 974,1402.93 978,1404.87 982,1406.82 986,1408.76 990,1410.71 994,1412.65 998,1414.6" fill="none" stroke="#111" stroke-width="2.3" stroke-linejoin="round" stroke-linecap="round" stroke-dasharray="28 10" stroke-linecap="butt"/>
<polyline points="110,810.563 114,814.4 118,818.236 122,822.073 126,825.91 130,829.747 134,833.583 138,836.749 142,839.26 146,841.791 150,844.345 154,846.921 158,848.548 162,850.2 166,851.877 170,853.581 174,855.876 178,858.74 182,861.604 186,864.469 190,867.333 194,870.197 198,873.061 202,875.925 206,878.789 210,881.654 214,884.518 218,887.366 222,890.165 226,892.965 230,895.764 234,898.564 238,901.322 242,904.066 246,906.811 250,909.555 254,912.316 258,915.124 262,917.933 266,920.569 270,923.037 274,925.506 278,927.979 282,930.455 286,932.634 290,934.816 294,937.001 298,939.189 302,941.538 306,944.047 310,946.556 314,949.065 318,951.574 322,954.084 326,956.593 330,959.102 334,961.611 338,964.12 342,966.629 346,969.138 350,971.647 354,974.156 358,976.665 362,979.174 366,981.684 370,984.193 374,986.702 378,989.324 382,991.947 386,994.57 390,997.193 394,999.87 398,1002.6 402,1005.33 406,1008.06 410,1010.79 414,1013.41 418,1016.02 422,1018.64 426,1021.26 430,1023.87 434,1026.49 438,1029.1 442,1031.72 446,1034.33 450,1036.95 454,1039.96 458,1043.38 462,1046.81 466,1050.26 470,1053.72 474,1057.92 478,1062.13 482,1066.36 486,1070.14 490,1073.47 494,1076.35 498,1079.23 502,1081.93 506,1084.46 510,1086.99 514,1089.53 518,1092.52 522,1097.38 526,1102.3 530,1107.27 534,1112.31 538,1118.54 542,1125.22 546,1131.93 550,1138.69 554,1144.91 558,1149.42 562,1153.93 566,1158.44 570,1162.95 574,1167.53 578,1172.17 582,1176.81 586,1181.45 590,1186.09 594,1190.82 598,1195.55 602,1200.28 606,1205.01 610,1209.67 614,1214.27 618,1218.86 622,1223.46 626,1228.06 630,1232.66 634,1237.25 638,1241.85 642,1245.16 646,1248.07 650,1250.99 654,1253.94 658,1256.63 662,1258.49 666,1260.38 670,1262.29 674,1264.24 678,1267.32 682,1270.78 686,1274.24 690,1277.7 694,1281.15 698,1284.61 702,1286.58 706,1288.58 710,1290.62 714,1292.7 718,1294.24 722,1295.24 726,1296.28 730,1297.37 734,1298.51 738,1300.82 742,1303.12 746,1305.43 750,1307.74 754,1310.05 758,1312.35 762,1314.66 766,1316.97 770,1319.28 774,1321.58 778,1323.77 782,1325.84 786,1327.91 790,1329.98 794,1332.05 798,1333.89 802,1335.72 806,1337.56 810,1339.4 814,1341.35 818,1343.42 822,1345.49 826,1347.55 830,1349.62 834,1351.68 838,1353.75 842,1355.81 846,1357.88 850,1359.94 854,1362.01 858,1364.07 862,1366.14 866,1368.09 870,1370.05 874,1372 878,1373.96 882,1375.86 886,1377.7 890,1379.53 894,1381.37 898,1383.21 902,1385.16 906,1387.1 910,1389.05 914,1390.99 918,1392.94 922,1394.88 926,1396.83 930,1398.77 934,1400.72 938,1402.66 942,1404.61 946,1406.55 950,1408.5 954,1410.44 958,1412.39 962,1414.33 966,1416.28 970,1418.22 974,1420.16 978,1422.11 982,1424.05 986,1426 990,1427.94 994,1429.89 998,1431.83" fill="none" stroke="#111" stroke-width="2.3" stroke-linejoin="round" stroke-linecap="round" stroke-dasharray="28 10" stroke-linecap="butt"/>
<polyline points="110,832.041 114,835.877 118,839.714 122,843.551 126,847.387 130,851.224 134,855.061 138,858.083 142,860.308 146,862.558 150,864.835 154,867.14 158,868.501 162,869.892 166,871.314 170,872.768 174,874.94 178,877.804 182,880.668 186,883.532 190,886.397 194,889.261 198,892.125 202,894.989 206,897.853 210,900.718 214,903.582 218,906.426 222,909.212 226,911.997 230,914.783 234,917.569 238,920.313 242,923.043 246,925.774 250,928.505 254,931.255 258,934.063 262,936.872 266,939.472 270,941.865 274,944.262 278,946.663 282,949.067 286,951.175 290,953.286 294,955.401 298,957.52 302,959.835 306,962.344 310,964.853 314,967.362 318,969.872 322,972.381 326,974.89 330,977.399 334,979.908 338,982.417 342,984.926 346,987.435 350,989.944 354,992.453 358,994.962 362,997.472 366,999.981 370,1002.49 374,1005 378,1007.65 382,1010.29 386,1012.94 390,1015.59 394,1018.29 398,1021.04 402,1023.8 406,1026.56 410,1029.31 414,1031.93 418,1034.54 422,1037.16 426,1039.77 430,1042.39 434,1045.01 438,1047.62 442,1050.24 446,1052.85 450,1055.47 454,1058.56 458,1062.15 462,1065.76 466,1069.39 470,1073.04 474,1077.42 478,1081.82 482,1086.24 486,1090.12 490,1093.45 494,1096.23 498,1099.01 502,1101.62 506,1104.05 510,1106.49 514,1108.93 518,1111.93 522,1117.19 526,1122.53 530,1127.94 534,1133.41 538,1140.11 542,1147.24 546,1154.44 550,1161.68 554,1168.27 558,1172.78 562,1177.29 566,1181.8 570,1186.31 574,1190.9 578,1195.57 582,1200.24 586,1204.91 590,1209.57 594,1214.33 598,1219.09 602,1223.85 606,1228.61 610,1233.28 614,1237.88 618,1242.48 622,1247.07 626,1251.67 630,1256.27" fill="none" stroke="#111" stroke-width="2.3" stroke-linejoin="round" stroke-linecap="round" stroke-dasharray="28 10" stroke-linecap="butt"/>
<polyline points="838,1371.19 842,1373.25 846,1375.32 850,1377.38 854,1379.45 858,1381.52 862,1383.58 866,1385.51 870,1387.44 874,1389.38 878,1391.31 882,1393.18 886,1395 890,1396.81 894,1398.63 898,1400.45 902,1402.39 906,1404.34 910,1406.28 914,1408.23 918,1410.17 922,1412.12 926,1414.06 930,1416.01 934,1417.95 938,1419.9 942,1421.84 946,1423.79 950,1425.73 954,1427.68 958,1429.62 962,1431.57 966,1433.51 970,1435.45 974,1437.4 978,1439.34 982,1441.29 986,1443.23 990,1445.18 994,1447.12 998,1449.07" fill="none" stroke="#111" stroke-width="2.3" stroke-linejoin="round" stroke-linecap="round" stroke-dasharray="28 10" stroke-linecap="butt"/>
<polyline points="178,896.868 182,899.732 186,902.596 190,905.461 194,908.325 198,911.189 202,914.053 206,916.917 210,919.782 214,922.646 218,925.487 222,928.258 226,931.03 230,933.802 234,936.574 238,939.304" fill="none" stroke="#111" stroke-width="2.3" stroke-linejoin="round" stroke-linecap="round" stroke-dasharray="28 10" stroke-linecap="butt"/>
<polyline points="350,1008.24 354,1010.75 358,1013.26 362,1015.77 366,1018.28 370,1020.79 374,1023.3 378,1025.97 382,1028.64 386,1031.31 390,1033.98 394,1036.71 398,1039.49 402,1042.27 406,1045.05 410,1047.83 414,1050.45 418,1053.06 422,1055.68 426,1058.29 430,1060.91 434,1063.52 438,1066.14 442,1068.76 446,1071.37 450,1073.99 454,1077.17 458,1080.93 462,1084.72 466,1088.52 470,1092.35 474,1096.92 478,1101.51 482,1106.12 486,1110.1 490,1113.43 494,1116.11 498,1118.8 502,1121.31 506,1123.64 510,1125.98 514,1128.33 518,1131.34 522,1137.01 526,1142.76 530,1148.6 534,1154.52 538,1161.67 542,1169.27 546,1176.94 550,1184.67" fill="none" stroke="#111" stroke-width="2.3" stroke-linejoin="round" stroke-linecap="round" stroke-dasharray="28 10" stroke-linecap="butt"/>
<polyline points="562,1200.65 566,1205.16 570,1209.67 574,1214.27 578,1218.97 582,1223.66 586,1228.36 590,1233.06" fill="none" stroke="#111" stroke-width="2.3" stroke-linejoin="round" stroke-linecap="round" stroke-dasharray="28 10" stroke-linecap="butt"/>
<polyline points="1006,1390.51 1010,1392.01 1014,1393.52 1018,1395.02 1022,1396.52 1026,1398.03 1030,1399.53 1034,1401.03 1038,1402.54 1042,1404.04 1046,1405.54 1050,1407.1 1054,1408.69 1058,1410.27 1062,1411.87 1066,1413.65 1070,1416.03 1074,1418.4 1078,1420.78 1082,1423.16 1086,1425.47 1090,1427.75 1094,1430.03 1098,1432.3 1102,1434.58 1106,1436.86 1110,1439.14 1114,1441.42 1118,1443.7 1122,1445.97 1126,1448.25 1130,1450.53 1134,1452.81 1138,1455.09 1142,1457.36 1146,1459.64 1150,1461.92 1154,1464.2 1158,1466.48 1162,1468.76 1166,1471.03 1170,1473.31 1174,1475.59 1178,1477.87 1182,1480.15 1186,1482.43 1190,1484.7 1194,1486.98 1198,1489.26 1202,1491.54 1206,1493.82 1210,1496.1 1214,1498.37 1218,1500.65 1222,1502.93 1226,1505.21 1230,1507.49 1234,1509.76 1238,1512.04 1242,1514.32 1246,1516.6 1250,1518.88 1254,1521.16 1258,1523.43 1262,1525.71 1266,1527.99 1270,1530.27 1274,1532.55 1278,1534.84 1282,1537.16 1286,1539.48 1290,1541.81 1294,1544.13 1298,1546.7 1302,1549.34 1306,1551.99 1310,1554.64 1314,1557.28 1318,1559.88 1322,1562.48 1326,1565.08 1330,1567.68 1334,1570.28 1338,1572.89 1342,1575.56 1346,1578.22 1350,1580.88 1354,1583.55 1358,1586.52 1362,1589.6 1366,1592.67 1370,1595.75 1374,1598.81 1378,1601.82 1382,1604.84 1386,1607.85 1390,1610.86 1394,1613.87 1398,1616.88 1402,1619.89 1406,1622.9 1410,1625.91 1414,1628.92 1418,1631.93 1422,1634.94 1426,1637.95 1430,1640.96 1434,1643.97 1438,1647.2 1442,1650.44 1446,1653.68 1450,1656.93 1454,1660.83 1458,1665.38 1462,1669.95 1466,1674.51 1470,1679.08 1474,1683.29 1478,1687.2 1482,1691.12 1486,1695.05 1490,1698.99 1494,1701.45 1498,1703.43 1502,1705.42 1506,1707.43 1510,1709.53 1514,1711.84 1518,1714.16 1522,1716.47 1526,1718.78 1530,1721.09 1534,1723.4 1538,1725.72 1542,1728.03 1546,1730.34 1550,1732.65 1554,1734.96 1558,1737.27 1562,1739.59 1566,1741.9 1570,1744.21 1574,1746.52 1578,1748.83 1582,1751.15 1586,1753.45 1590,1755.75 1594,1758.05 1598,1760.35 1602,1762.62 1606,1764.85 1610,1767.07 1614,1769.3 1618,1771.53 1622,1773.77 1626,1776 1630,1778.24 1634,1780.48 1638,1782.72 1642,1784.96 1646,1787.19 1650,1789.43 1654,1791.67 1658,1793.91 1662,1796.14 1666,1798.38 1670,1800.62 1674,1802.86 1678,1805.09 1682,1807.33 1686,1809.57 1690,1811.81 1694,1814.05 1698,1816.28 1702,1818.52 1706,1820.76 1710,1823 1714,1825.23 1718,1827.47 1722,1829.71 1726,1831.95 1730,1834.19 1734,1836.42 1738,1838.66 1742,1840.9 1746,1843.14 1750,1845.37 1754,1847.61 1758,1849.85 1762,1852.09 1766,1854.33 1770,1856.56 1774,1858.8 1778,1861.04 1782,1863.28 1786,1865.51 1790,1867.75 1794,1869.99 1798,1872.23 1802,1874.47 1806,1876.7 1810,1878.94 1814,1881.18 1818,1883.42 1822,1885.65 1826,1887.89 1830,1890.13 1834,1892.37 1838,1894.61 1842,1896.84 1846,1899.08 1850,1901.32 1854,1903.56 1858,1905.79 1862,1908.03 1866,1910.27 1870,1912.51 1874,1914.75 1878,1916.98 1882,1919.22" fill="none" stroke="#111" stroke-width="2.3" stroke-linejoin="round" stroke-linecap="round" stroke-dasharray="28 10" stroke-linecap="butt"/>
<polyline points="1006,1407.07 1010,1408.57 1014,1410.07 1018,1411.58 1022,1413.08 1026,1414.58 1030,1416.09 1034,1417.59 1038,1419.09 1042,1420.6 1046,1422.1 1050,1423.75 1054,1425.46 1058,1427.18 1062,1428.9 1066,1430.83 1070,1433.35 1074,1435.88 1078,1438.42 1082,1440.96 1086,1443.31 1090,1445.59 1094,1447.86 1098,1450.14 1102,1452.42 1106,1454.7 1110,1456.98 1114,1459.25 1118,1461.53 1122,1463.81 1126,1466.09 1130,1468.37 1134,1470.65 1138,1472.92 1142,1475.2 1146,1477.48 1150,1479.76 1154,1482.04 1158,1484.32 1162,1486.59 1166,1488.87 1170,1491.15 1174,1493.43 1178,1495.71 1182,1497.99 1186,1500.26 1190,1502.54 1194,1504.82 1198,1507.1 1202,1509.38 1206,1511.65 1210,1513.93 1214,1516.21 1218,1518.49 1222,1520.77 1226,1523.05 1230,1525.32 1234,1527.6 1238,1529.88 1242,1532.16 1246,1534.44 1250,1536.72 1254,1538.99 1258,1541.27 1262,1543.55 1266,1545.83 1270,1548.11 1274,1550.39 1278,1552.69 1282,1555.08 1286,1557.48 1290,1559.87 1294,1562.27 1298,1564.91 1302,1567.63 1306,1570.35 1310,1573.07 1314,1575.76 1318,1578.36 1322,1580.96 1326,1583.56 1330,1586.16 1334,1588.76 1338,1591.4 1342,1594.16 1346,1596.92 1350,1599.69 1354,1602.45 1358,1605.53 1362,1608.71 1366,1611.89 1370,1615.07 1374,1618.21 1378,1621.22 1382,1624.23 1386,1627.24 1390,1630.25 1394,1633.26 1398,1636.28 1402,1639.29 1406,1642.3 1410,1645.31 1414,1648.32 1418,1651.33 1422,1654.34 1426,1657.35 1430,1660.36 1434,1663.37 1438,1666.94 1442,1670.53 1446,1674.13 1450,1677.75 1454,1682.03 1458,1686.97 1462,1691.92 1466,1696.88 1470,1701.86 1474,1705.91 1478,1709.2 1482,1712.52 1486,1715.87 1490,1719.25 1494,1721.17 1498,1722.62 1502,1724.12 1506,1725.67 1510,1727.43 1514,1729.75 1518,1732.06 1522,1734.37 1526,1736.68 1530,1738.99 1534,1741.31 1538,1743.62 1542,1745.93 1546,1748.24 1550,1750.55 1554,1752.87 1558,1755.18 1562,1757.49 1566,1759.8 1570,1762.11 1574,1764.43 1578,1766.74 1582,1769.05 1586,1771.33 1590,1773.62 1594,1775.91 1598,1778.19 1602,1780.44 1606,1782.65 1610,1784.87 1614,1787.08 1618,1789.29 1622,1791.53 1626,1793.76 1630,1796 1634,1798.24 1638,1800.48 1642,1802.72 1646,1804.95 1650,1807.19 1654,1809.43 1658,1811.67 1662,1813.9 1666,1816.14 1670,1818.38 1674,1820.62 1678,1822.86 1682,1825.09 1686,1827.33 1690,1829.57 1694,1831.81 1698,1834.04 1702,1836.28 1706,1838.52 1710,1840.76 1714,1843 1718,1845.23 1722,1847.47 1726,1849.71 1730,1851.95 1734,1854.18 1738,1856.42 1742,1858.66 1746,1860.9 1750,1863.14 1754,1865.37 1758,1867.61 1762,1869.85 1766,1872.09 1770,1874.32 1774,1876.56 1778,1878.8 1782,1881.04 1786,1883.28 1790,1885.51 1794,1887.75 1798,1889.99 1802,1892.23 1806,1894.46 1810,1896.7 1814,1898.94 1818,1901.18 1822,1903.41 1826,1905.65 1830,1907.89 1834,1910.13 1838,1912.37 1842,1914.6 1846,1916.84 1850,1919.08 1854,1921.32 1858,1923.55 1862,1925.79 1866,1928.03 1870,1930.27 1874,1932.51 1878,1934.74 1882,1936.98" fill="none" stroke="#111" stroke-width="2.3" stroke-linejoin="round" stroke-linecap="round" stroke-dasharray="28 10" stroke-linecap="butt"/>
<polyline points="1006,1423.63 1010,1425.13 1014,1426.63 1018,1428.14 1022,1429.64 1026,1431.14 1030,1432.65 1034,1434.15 1038,1435.65 1042,1437.16 1046,1438.66 1050,1440.4 1054,1442.23 1058,1444.08 1062,1445.94 1066,1448.01 1070,1450.68 1074,1453.36 1078,1456.05 1082,1458.76 1086,1461.14 1090,1463.42 1094,1465.7 1098,1467.98 1102,1470.26 1106,1472.54 1110,1474.81 1114,1477.09 1118,1479.37 1122,1481.65 1126,1483.93 1130,1486.21 1134,1488.48 1138,1490.76 1142,1493.04 1146,1495.32 1150,1497.6 1154,1499.88 1158,1502.15 1162,1504.43 1166,1506.71 1170,1508.99 1174,1511.27 1178,1513.54 1182,1515.82 1186,1518.1 1190,1520.38 1194,1522.66 1198,1524.94 1202,1527.21 1206,1529.49 1210,1531.77 1214,1534.05 1218,1536.33 1222,1538.61 1226,1540.88 1230,1543.16 1234,1545.44 1238,1547.72 1242,1550 1246,1552.28 1250,1554.55 1254,1556.83 1258,1559.11 1262,1561.39 1266,1563.67 1270,1565.94 1274,1568.22 1278,1570.55 1282,1573.01 1286,1575.47 1290,1577.94 1294,1580.4 1298,1583.12 1302,1585.91 1306,1588.7 1310,1591.5 1314,1594.25 1318,1596.85 1322,1599.45 1326,1602.05 1330,1604.65 1334,1607.25 1338,1609.91 1342,1612.77 1346,1615.63 1350,1618.49 1354,1621.36 1358,1624.54 1362,1627.82 1366,1631.1 1370,1634.39 1374,1637.61 1378,1640.62 1382,1643.63 1386,1646.64 1390,1649.65 1394,1652.66 1398,1655.67 1402,1658.68 1406,1661.69 1410,1664.71 1414,1667.72 1418,1670.73 1422,1673.74 1426,1676.75 1430,1679.76 1434,1682.77 1438,1686.68 1442,1690.62 1446,1694.58 1450,1698.57 1454,1703.22 1458,1708.55 1462,1713.89" fill="none" stroke="#111" stroke-width="2.3" stroke-linejoin="round" stroke-linecap="round" stroke-dasharray="28 10" stroke-linecap="butt"/>
<polyline points="1006,1440.18 1010,1441.69 1014,1443.19 1018,1444.69 1022,1446.2 1026,1447.7 1030,1449.2 1034,1450.71 1038,1452.21 1042,1453.71 1046,1455.22 1050,1457.05 1054,1459.01 1058,1460.98 1062,1462.98 1066,1465.19 1070,1468.01 1074,1470.84 1078,1473.69 1082,1476.55 1086,1478.98 1090,1481.26 1094,1483.54 1098,1485.82 1102,1488.1 1106,1490.37 1110,1492.65 1114,1494.93 1118,1497.21 1122,1499.49 1126,1501.77 1130,1504.04 1134,1506.32 1138,1508.6 1142,1510.88 1146,1513.16 1150,1515.43 1154,1517.71 1158,1519.99 1162,1522.27 1166,1524.55 1170,1526.83 1174,1529.1 1178,1531.38 1182,1533.66 1186,1535.94 1190,1538.22 1194,1540.5 1198,1542.77 1202,1545.05 1206,1547.33 1210,1549.61 1214,1551.89 1218,1554.17 1222,1556.44 1226,1558.72 1230,1561 1234,1563.28 1238,1565.56 1242,1567.83 1246,1570.11 1250,1572.39 1254,1574.67 1258,1576.95 1262,1579.23 1266,1581.5 1270,1583.78 1274,1586.06 1278,1588.4 1282,1590.93 1286,1593.47 1290,1596 1294,1598.54 1298,1601.32 1302,1604.19 1306,1607.06 1310,1609.93 1314,1612.74 1318,1615.34 1322,1617.94 1326,1620.54 1330,1623.14 1334,1625.74 1338,1628.42 1342,1631.38 1346,1634.34 1350,1637.3 1354,1640.27 1358,1643.54 1362,1646.93 1366,1650.32 1370,1653.71 1374,1657.01 1378,1660.02 1382,1663.03 1386,1666.04 1390,1669.05 1394,1672.06 1398,1675.07 1402,1678.08 1406,1681.09 1410,1684.1 1414,1687.11 1418,1690.12 1422,1693.14" fill="none" stroke="#111" stroke-width="2.3" stroke-linejoin="round" stroke-linecap="round" stroke-dasharray="28 10" stroke-linecap="butt"/>
<polyline points="1006,1456.74 1010,1458.25 1014,1459.75 1018,1461.25 1022,1462.76 1026,1464.26 1030,1465.76 1034,1467.27 1038,1468.77 1042,1470.27 1046,1471.78 1050,1473.7 1054,1475.78 1058,1477.89 1062,1480.02 1066,1482.37 1070,1485.33 1074,1488.32 1078,1491.32 1082,1494.35 1086,1496.82 1090,1499.1 1094,1501.38 1098,1503.66 1102,1505.93 1106,1508.21 1110,1510.49 1114,1512.77 1118,1515.05 1122,1517.32 1126,1519.6 1130,1521.88 1134,1524.16 1138,1526.44 1142,1528.72 1146,1530.99 1150,1533.27 1154,1535.55 1158,1537.83 1162,1540.11 1166,1542.39 1170,1544.66 1174,1546.94 1178,1549.22 1182,1551.5 1186,1553.78 1190,1556.06 1194,1558.33 1198,1560.61 1202,1562.89 1206,1565.17 1210,1567.45 1214,1569.72 1218,1572 1222,1574.28 1226,1576.56 1230,1578.84 1234,1581.12 1238,1583.39 1242,1585.67 1246,1587.95 1250,1590.23 1254,1592.51 1258,1594.79 1262,1597.06 1266,1599.34 1270,1601.62 1274,1603.9 1278,1606.26 1282,1608.86 1286,1611.46 1290,1614.07 1294,1616.68 1298,1619.53 1302,1622.47 1306,1625.41 1310,1628.36 1314,1631.22 1318,1633.82 1322,1636.42 1326,1639.02 1330,1641.62 1334,1644.22 1338,1646.94" fill="none" stroke="#111" stroke-width="2.3" stroke-linejoin="round" stroke-linecap="round" stroke-dasharray="28 10" stroke-linecap="butt"/>
<polyline points="672.9,1081.6 693.3,1103.5 767,1153.7 880,1211.7 1006.8,1270.6" fill="none" stroke="#1e4b5a" stroke-width="1.8" stroke-linejoin="round" stroke-linecap="round" />
<polyline points="1013.6,1303.4 1106.5,1347.6 1174.5,1379.3 1265,1429.2 1329,1475 1392,1507 1423,1538 1496,1603 1600,1677 1753,1761 1880,1825" fill="none" stroke="#1e4b5a" stroke-width="1.8" stroke-linejoin="round" stroke-linecap="round" />
<polyline points="893.6,1180 890.2,1190.2" fill="none" stroke="#1e4b5a" stroke-width="1.8" stroke-linejoin="round" stroke-linecap="round" />
<polyline points="925.3,1237.8 909.4,1306.8" fill="none" stroke="#1e4b5a" stroke-width="1.8" stroke-linejoin="round" stroke-linecap="round" />
<polyline points="1079.3,1334 1070.3,1409.9" fill="none" stroke="#1e4b5a" stroke-width="1.8" stroke-linejoin="round" stroke-linecap="round" />
<polyline points="1104.2,1293.3 1099.7,1338.6" fill="none" stroke="#1e4b5a" stroke-width="1.8" stroke-linejoin="round" stroke-linecap="round" />
<polyline points="1169.9,1379.3 1160.9,1454" fill="none" stroke="#1e4b5a" stroke-width="1.8" stroke-linejoin="round" stroke-linecap="round" />
<polyline points="1222,1352.1 1216.4,1402" fill="none" stroke="#1e4b5a" stroke-width="1.8" stroke-linejoin="round" stroke-linecap="round" />
<polyline points="1265,1433.7 1254.9,1509.6" fill="none" stroke="#1e4b5a" stroke-width="1.8" stroke-linejoin="round" stroke-linecap="round" />
<polyline points="1326.2,1411 1320.5,1464.2" fill="none" stroke="#1e4b5a" stroke-width="1.8" stroke-linejoin="round" stroke-linecap="round" />
<polyline points="1006.8,1272.9 997.8,1347.6" fill="none" stroke="#1e4b5a" stroke-width="1.8" stroke-linejoin="round" stroke-linecap="round" />
<polyline points="1015.9,1269.5 1004.6,1379.3" fill="none" stroke="#1e4b5a" stroke-width="1.8" stroke-linejoin="round" stroke-linecap="round" />
<polyline points="1350.1,1566.9 1356.7,1500.2" fill="none" stroke="#1e4b5a" stroke-width="1.8" stroke-linejoin="round" stroke-linecap="round" />
<polyline points="1410.2,1475.4 1416.8,1431" fill="none" stroke="#1e4b5a" stroke-width="1.8" stroke-linejoin="round" stroke-linecap="round" />
<polyline points="1425.9,1525.1 1428.5,1487.2" fill="none" stroke="#1e4b5a" stroke-width="1.8" stroke-linejoin="round" stroke-linecap="round" />
<polyline points="1467.7,1514.6 1470.3,1478" fill="none" stroke="#1e4b5a" stroke-width="1.8" stroke-linejoin="round" stroke-linecap="round" />
<polyline points="1454.7,1645.3 1467.7,1577.3" fill="none" stroke="#1e4b5a" stroke-width="1.8" stroke-linejoin="round" stroke-linecap="round" />
<polyline points="660.4,1138 655.7,1153.7" fill="none" stroke="#1e4b5a" stroke-width="1.8" stroke-linejoin="round" stroke-linecap="round" />
<polyline points="673.7,1082.4 665.1,1116.1" fill="none" stroke="#1e4b5a" stroke-width="1.8" stroke-linejoin="round" stroke-linecap="round" />
<polyline points="781.9,1107.4 767,1153.7" fill="none" stroke="#1e4b5a" stroke-width="1.8" stroke-linejoin="round" stroke-linecap="round" />
<polyline points="748.2,1148.2 746.6,1155.3" fill="none" stroke="#1e4b5a" stroke-width="1.8" stroke-linejoin="round" stroke-linecap="round" />
<polyline points="738.8,1192.9 731.7,1218" fill="none" stroke="#1e4b5a" stroke-width="1.8" stroke-linejoin="round" stroke-linecap="round" />
<polyline points="897.1,1169.4 890.1,1189.8" fill="none" stroke="#1e4b5a" stroke-width="1.8" stroke-linejoin="round" stroke-linecap="round" />
<polyline points="841.5,1196.8 825,1266.6" fill="none" stroke="#1e4b5a" stroke-width="1.8" stroke-linejoin="round" stroke-linecap="round" />
<polyline points="925.4,1236.8 908.9,1307.3" fill="none" stroke="#1e4b5a" stroke-width="1.8" stroke-linejoin="round" stroke-linecap="round" />
<polyline points="853.2,1199.2 1000,1268.1" fill="none" stroke="#1e4b5a" stroke-width="1.8" stroke-linejoin="round" stroke-linecap="round" />
<polyline points="1003.4,1354.4 995.5,1463.1" fill="none" stroke="#000" stroke-width="1.2" stroke-linejoin="round" stroke-linecap="round" />
<polygon points="282,844 392,910 455,932 470,951 533,982 552,986 580,1011 615,1036 640,1039 659,1052 660,1068 663,1083 657.2,1108.2 666.7,1116.1 677.6,1125.5 693.3,1141.1 718.4,1152.1 752.9,1156.8 776.4,1156.8 796.8,1163.1 834.4,1175.6 856.4,1175.6 859.5,1183.5 865.8,1189.8 884.6,1189.8 908.1,1199.2 931.6,1203.9 952,1203.9 1000,1230.5 1097.4,1286.5 1097.4,1287.6 1079.3,1288.7 1054.4,1284.2 1036.3,1266.1 1013.6,1266.1 1003.4,1250.2 1000,1246.2 967.7,1239.9 955.1,1229 941,1222.7 915.9,1223.5 897.1,1218.8 884.6,1208.6 853.2,1197.6 815.6,1186.6 790.5,1180.3 763.9,1177.2 749.8,1177.2 762.3,1190.5 788.9,1196 799.9,1203.9 817.2,1213.3 836,1224.2 865.8,1243.8 887.7,1254 909.7,1268.1 939.5,1272.1 961.4,1292.4 1000,1313.6 1009.1,1315.9 1021.6,1322.7 1026.1,1341.9 1045.3,1355.5 1074.8,1355.5 1120.1,1379.3 1147.3,1404.2 1170,1416.7 1183.5,1431.4 1217.5,1439.4 1240.1,1449.6 1256,1445 1276.4,1450.6 1294.5,1468.8 1317.1,1476.7 1344.3,1476.7 1369.2,1492.6 1400,1510.7 1452,1537 1473,1537 1536,1569 1541,1572 1502,1562 1455,1543 1400,1520 1355.7,1501.6 1333,1491.5 1305.8,1486.9 1269.6,1465.4 1242.4,1460.9 1215.2,1449.6 1174.5,1433.7 1147.3,1420.1 1124.6,1404.2 1088.4,1379.3 1079.3,1365.7 1036.3,1358.9 1015.9,1345.3 1006.8,1323.8 1000,1320 928.5,1283.8 906.5,1277.6 864.2,1258 817.2,1226.6 799.9,1216.4 774.8,1204.6 751.3,1199.9 718.4,1178.8 705.9,1176.4 677.6,1152.1 655.7,1131.7 640,1116.1 606,1075 574,1050 547,1019 500,989 470,964 392,913" fill="#29a8e0" stroke="none" stroke-width="0" stroke-linejoin="round" />
<polyline points="282,844 392,913 470,964 500,989 547,1019 574,1050 606,1075 640,1116.1 655.7,1131.7 677.6,1152.1 705.9,1176.4 718.4,1178.8 751.3,1199.9 774.8,1204.6 799.9,1216.4 817.2,1226.6 864.2,1258 906.5,1277.6 928.5,1283.8 1000,1320 1006.8,1323.8 1015.9,1345.3 1036.3,1358.9 1079.3,1365.7 1088.4,1379.3 1124.6,1404.2 1147.3,1420.1 1174.5,1433.7 1215.2,1449.6 1242.4,1460.9 1269.6,1465.4 1305.8,1486.9 1333,1491.5 1355.7,1501.6 1400,1520 1455,1543 1502,1562 1541,1572" fill="none" stroke="#000" stroke-width="3" stroke-linejoin="round" stroke-linecap="round" />
<polyline points="1097.4,1287.6 1079.3,1288.7 1054.4,1284.2 1036.3,1266.1 1013.6,1266.1 1003.4,1250.2 1000,1246.2 967.7,1239.9 955.1,1229 941,1222.7 915.9,1223.5 897.1,1218.8 884.6,1208.6 853.2,1197.6 815.6,1186.6 790.5,1180.3 763.9,1177.2 749.8,1177.2 762.3,1190.5 788.9,1196 799.9,1203.9 817.2,1213.3 836,1224.2 865.8,1243.8 887.7,1254 909.7,1268.1 939.5,1272.1 961.4,1292.4 1000,1313.6 1009.1,1315.9 1021.6,1322.7 1026.1,1341.9 1045.3,1355.5 1074.8,1355.5 1120.1,1379.3 1147.3,1404.2 1170,1416.7 1183.5,1431.4 1217.5,1439.4 1240.1,1449.6 1256,1445 1276.4,1450.6 1294.5,1468.8 1317.1,1476.7 1344.3,1476.7 1369.2,1492.6 1400,1510.7 1452,1537 1473,1537 1536,1569 1541,1572" fill="none" stroke="#000" stroke-width="3" stroke-linejoin="round" stroke-linecap="round" />
<polyline points="657.2,1108.2 666.7,1116.1 677.6,1125.5 693.3,1141.1 718.4,1152.1 752.9,1156.8 776.4,1156.8 796.8,1163.1 834.4,1175.6 856.4,1175.6 859.5,1183.5 865.8,1189.8 884.6,1189.8 908.1,1199.2 931.6,1203.9 952,1203.9 1011.3,1203.6" fill="none" stroke="#000" stroke-width="3" stroke-linejoin="round" stroke-linecap="round" />
<polyline points="176,622 194.6,640 239.3,675.7 292.9,707.9 337.5,734.6 371.4,757.9 412.5,781.1 460.7,809.6 507.1,836.4 545.4,878.6 611.4,937.5 647.1,978.6 656.1,989.3" fill="none" stroke="#000" stroke-width="2.2" stroke-linejoin="round" stroke-linecap="round" />
<polyline points="119.6,626 150,657.9 169.6,677.5 203.6,698.9 257.1,736.4 346.4,797.1 391.1,823.9 435.7,854.3 471.4,877.5 498.2,898.9 540,932.1 575.7,971.4 615,1014.3" fill="none" stroke="#000" stroke-width="2.2" stroke-linejoin="round" stroke-linecap="round" />
<polyline points="556.1,837.5 591.8,869.6 629.3,910.7 657.9,944.6" fill="none" stroke="#000" stroke-width="2.2" stroke-linejoin="round" stroke-linecap="round" />
<polyline points="615,817.9 666.8,871.4" fill="none" stroke="#000" stroke-width="2.2" stroke-linejoin="round" stroke-linecap="round" />
<polyline points="740,871.4 781.1,914.3 840,962.5 888.2,989.3 950,1022.3 978.4,1040 1037.6,1064.4" fill="none" stroke="#000" stroke-width="2.2" stroke-linejoin="round" stroke-linecap="round" />
<polyline points="681.1,891.1 707.9,923.2 766.8,983.9 780,990 840,1027.5 882.1,1050.1 945.1,1080.1 1002.1,1108.6 1032.2,1122.8" fill="none" stroke="#000" stroke-width="2.2" stroke-linejoin="round" stroke-linecap="round" />
<polyline points="718.6,1050 745,1080 752.9,1084.7 822,1125.1 873.1,1153.6 930.1,1182.1 963.1,1200 1011,1203" fill="none" stroke="#000" stroke-width="2.2" stroke-linejoin="round" stroke-linecap="round" />
<polyline points="670.4,960.7 718.6,1010.7 750.7,1032.1 780,1059.1 801,1074.1 882.1,1113.1 960.1,1155.1 1021.6,1182.1" fill="none" stroke="#000" stroke-width="2.2" stroke-linejoin="round" stroke-linecap="round" />
<polyline points="665,1003.6 682.9,1023.2 718.6,1050" fill="none" stroke="#000" stroke-width="2.2" stroke-linejoin="round" stroke-linecap="round" />
<polyline points="1037.6,1082.7 1166.3,1143.2 1239.9,1183.9 1326.5,1231.2" fill="none" stroke="#000" stroke-width="2.2" stroke-linejoin="round" stroke-linecap="round" />
<polyline points="1032.4,1143.2 1158.4,1195.7 1242.5,1246.9 1365.9,1315.2" fill="none" stroke="#000" stroke-width="2.2" stroke-linejoin="round" stroke-linecap="round" />
<polyline points="1274,1336.2 1394.8,1409.8" fill="none" stroke="#000" stroke-width="2.2" stroke-linejoin="round" stroke-linecap="round" />
<polyline points="125,635 118,714.3" fill="none" stroke="#000" stroke-width="1.8" stroke-linejoin="round" stroke-linecap="round" />
<polyline points="179.5,640 177.7,682.9" fill="none" stroke="#000" stroke-width="1.8" stroke-linejoin="round" stroke-linecap="round" />
<polyline points="261.6,640 255.4,682.9" fill="none" stroke="#000" stroke-width="1.8" stroke-linejoin="round" stroke-linecap="round" />
<polyline points="298.2,663.2 297.3,709.6" fill="none" stroke="#000" stroke-width="1.8" stroke-linejoin="round" stroke-linecap="round" />
<polyline points="340.2,697.1 335.7,731.1" fill="none" stroke="#000" stroke-width="1.8" stroke-linejoin="round" stroke-linecap="round" />
<polyline points="384.8,707 383.9,720.4" fill="none" stroke="#000" stroke-width="1.8" stroke-linejoin="round" stroke-linecap="round" />
<polyline points="377.7,716.8 371.4,757.9" fill="none" stroke="#000" stroke-width="1.8" stroke-linejoin="round" stroke-linecap="round" />
<polyline points="418.8,740 413.4,779.3" fill="none" stroke="#000" stroke-width="1.8" stroke-linejoin="round" stroke-linecap="round" />
<polyline points="445.5,748.9 444.6,757.9" fill="none" stroke="#000" stroke-width="1.8" stroke-linejoin="round" stroke-linecap="round" />
<polyline points="466.1,768.6 460.7,809.6" fill="none" stroke="#000" stroke-width="1.8" stroke-linejoin="round" stroke-linecap="round" />
<polyline points="508,801.6 502.7,838.2" fill="none" stroke="#000" stroke-width="1.8" stroke-linejoin="round" stroke-linecap="round" />
<polyline points="192.9,695.4 185.7,766.8" fill="none" stroke="#000" stroke-width="1.8" stroke-linejoin="round" stroke-linecap="round" />
<polyline points="285.7,705.2 277.7,757.9" fill="none" stroke="#000" stroke-width="1.8" stroke-linejoin="round" stroke-linecap="round" />
<polyline points="264.3,751.6 258.9,812.3" fill="none" stroke="#000" stroke-width="1.8" stroke-linejoin="round" stroke-linecap="round" />
<polyline points="383.9,766.8 377.7,813.2" fill="none" stroke="#000" stroke-width="1.8" stroke-linejoin="round" stroke-linecap="round" />
<polyline points="480.4,823.9 473.2,875.7" fill="none" stroke="#000" stroke-width="1.8" stroke-linejoin="round" stroke-linecap="round" />
<polyline points="337.5,799.8 330.4,859.6" fill="none" stroke="#000" stroke-width="1.8" stroke-linejoin="round" stroke-linecap="round" />
<polyline points="408.9,837.3 400.9,890" fill="none" stroke="#000" stroke-width="1.8" stroke-linejoin="round" stroke-linecap="round" />
<polyline points="595.4,828.6 582.9,858.9" fill="none" stroke="#000" stroke-width="1.8" stroke-linejoin="round" stroke-linecap="round" />
<polyline points="591.8,867.9 577.5,903.6" fill="none" stroke="#000" stroke-width="1.8" stroke-linejoin="round" stroke-linecap="round" />
<polyline points="631.1,911.6 614.1,937.5" fill="none" stroke="#000" stroke-width="1.8" stroke-linejoin="round" stroke-linecap="round" />
<polyline points="590.9,921.4 575.7,972.3" fill="none" stroke="#000" stroke-width="1.8" stroke-linejoin="round" stroke-linecap="round" />
<polyline points="658.8,949.1 643.6,972.3" fill="none" stroke="#000" stroke-width="1.8" stroke-linejoin="round" stroke-linecap="round" />
<polyline points="554.3,950.9 548.9,982.1" fill="none" stroke="#000" stroke-width="1.8" stroke-linejoin="round" stroke-linecap="round" />
<polyline points="704.3,862.5 672.1,958.9" fill="none" stroke="#000" stroke-width="1.8" stroke-linejoin="round" stroke-linecap="round" />
<polyline points="783.8,917.9 765,978.6" fill="none" stroke="#000" stroke-width="1.8" stroke-linejoin="round" stroke-linecap="round" />
<polyline points="817.7,908 807.9,936.6" fill="none" stroke="#000" stroke-width="1.8" stroke-linejoin="round" stroke-linecap="round" />
<polyline points="877.5,942 870.4,978.6" fill="none" stroke="#000" stroke-width="1.8" stroke-linejoin="round" stroke-linecap="round" />
<polyline points="778.4,985.7 761.4,1044.6" fill="none" stroke="#000" stroke-width="1.8" stroke-linejoin="round" stroke-linecap="round" />
<polyline points="693.6,988.4 681.1,1021.4" fill="none" stroke="#000" stroke-width="1.8" stroke-linejoin="round" stroke-linecap="round" />
<polyline points="890,989.3 881.1,1050" fill="none" stroke="#000" stroke-width="1.8" stroke-linejoin="round" stroke-linecap="round" />
<polyline points="950,980.4 943.6,1019.6" fill="none" stroke="#000" stroke-width="1.8" stroke-linejoin="round" stroke-linecap="round" />
<polyline points="732,1030.4 720.4,1060" fill="none" stroke="#000" stroke-width="1.8" stroke-linejoin="round" stroke-linecap="round" />
<polyline points="1020.5,1025.8 1019.2,1040" fill="none" stroke="#000" stroke-width="1.8" stroke-linejoin="round" stroke-linecap="round" />
<polyline points="886.6,1000 880,1049.9" fill="none" stroke="#000" stroke-width="1.8" stroke-linejoin="round" stroke-linecap="round" />
<polyline points="948.3,1000 944.4,1019.7" fill="none" stroke="#000" stroke-width="1.8" stroke-linejoin="round" stroke-linecap="round" />
<polyline points="1008.7,1049.9 1002.1,1111.6" fill="none" stroke="#000" stroke-width="1.8" stroke-linejoin="round" stroke-linecap="round" />
<polyline points="939.1,1148.4 932.5,1183.9" fill="none" stroke="#000" stroke-width="1.8" stroke-linejoin="round" stroke-linecap="round" />
<polyline points="998.2,1173.4 992.9,1202.3" fill="none" stroke="#000" stroke-width="1.8" stroke-linejoin="round" stroke-linecap="round" />
<polyline points="1021.8,1120.8 1016.6,1181.2" fill="none" stroke="#000" stroke-width="1.8" stroke-linejoin="round" stroke-linecap="round" />
<polyline points="1019.2,1026.3 1017.9,1052.5" fill="none" stroke="#000" stroke-width="1.8" stroke-linejoin="round" stroke-linecap="round" />
<polyline points="1040.2,1039.4 1027.1,1173.4" fill="none" stroke="#000" stroke-width="1.8" stroke-linejoin="round" stroke-linecap="round" />
<polyline points="1082.3,1040.7 1080.9,1101.1" fill="none" stroke="#000" stroke-width="1.8" stroke-linejoin="round" stroke-linecap="round" />
<polyline points="1168.9,1078.8 1166.3,1143.2" fill="none" stroke="#000" stroke-width="1.8" stroke-linejoin="round" stroke-linecap="round" />
<polyline points="1186,1073.5 1186,1085.4" fill="none" stroke="#000" stroke-width="1.8" stroke-linejoin="round" stroke-linecap="round" />
<polyline points="1263.5,1105.1 1260.9,1132.6" fill="none" stroke="#000" stroke-width="1.8" stroke-linejoin="round" stroke-linecap="round" />
<polyline points="1140,1131.3 1137.4,1187.8" fill="none" stroke="#000" stroke-width="1.8" stroke-linejoin="round" stroke-linecap="round" />
<polyline points="1242.5,1122.1 1239.8,1187.8" fill="none" stroke="#000" stroke-width="1.8" stroke-linejoin="round" stroke-linecap="round" />
<polyline points="1046.8,1152.3 1044.2,1215.4" fill="none" stroke="#000" stroke-width="1.8" stroke-linejoin="round" stroke-linecap="round" />
<polyline points="1053.4,1222 1052,1248.2" fill="none" stroke="#000" stroke-width="1.8" stroke-linejoin="round" stroke-linecap="round" />
<polyline points="1104.6,1244.3 1102,1271.9" fill="none" stroke="#000" stroke-width="1.8" stroke-linejoin="round" stroke-linecap="round" />
<polyline points="1158.4,1195.7 1157.1,1270.5" fill="none" stroke="#000" stroke-width="1.8" stroke-linejoin="round" stroke-linecap="round" />
<polyline points="1245.1,1189.1 1242.5,1246.9" fill="none" stroke="#000" stroke-width="1.8" stroke-linejoin="round" stroke-linecap="round" />
<polyline points="1279.2,1270.5 1276.6,1302.1" fill="none" stroke="#000" stroke-width="1.8" stroke-linejoin="round" stroke-linecap="round" />
<polyline points="1209.6,1319.1 1207,1340.2" fill="none" stroke="#000" stroke-width="1.8" stroke-linejoin="round" stroke-linecap="round" />
<polyline points="1270.1,1336.2 1266.1,1373" fill="none" stroke="#000" stroke-width="1.8" stroke-linejoin="round" stroke-linecap="round" />
<polyline points="1323.9,1370.4 1320,1420" fill="none" stroke="#000" stroke-width="1.8" stroke-linejoin="round" stroke-linecap="round" />
<polyline points="1367.2,1328.3 1365.9,1394" fill="none" stroke="#000" stroke-width="1.8" stroke-linejoin="round" stroke-linecap="round" />
<polyline points="155.4,754.3 160.7,756.1 176.8,761.4 189.3,772.1 207.1,781.1 230.4,800.7 257.1,812.3 267.9,815.9 282.1,807.9 286.6,788.2 273.2,787.3 258.9,773 247.3,773.9 232.1,757 242.9,757 273.2,771.2 285.7,771.2 343.8,798 335.7,801.6 325.9,803.4 305.4,793.6 301.8,807.9 291.1,832.9 292.9,840 310.7,843.6 314.3,857 330.4,859.6 378.6,877.5 400,889.1 417.9,897.1 424.1,901.3 440.1,901.3 448.1,870.3 456.1,884.3 453.1,930.4 460.1,933.4 476.2,948.4 530.3,984.4 531.3,969.4 538.3,957.4 544.3,966.4 545.3,980.4 580.4,1012.5 620.5,1038.6 640,1039.3 648.9,1032.1 656.1,1026.8" fill="none" stroke="#000" stroke-width="2.8" stroke-linejoin="round" stroke-linecap="round" />
<polyline points="880,1191.7 887.9,1189.1 932.5,1203.6 1011.3,1203.6 1027.1,1183.9 1028.4,1172 1028.4,1186.5 1037.6,1214.1 1037.6,1245.6 1071.7,1256.1 1126.9,1283.7 1147.9,1299.4 1163.7,1291.6 1175.5,1257.4 1176.8,1222 1186,1220.6 1186,1286.3 1203.1,1300.8 1253,1300.8 1297.6,1309.9 1350.2,1299.4 1372.5,1302.1 1379.1,1323.1 1359.4,1325.7 1321.3,1327 1266.1,1328.3 1229.3,1316.5 1174.2,1319.1 1132.2,1304.7 1095.4,1286.3" fill="none" stroke="#000" stroke-width="2.8" stroke-linejoin="round" stroke-linecap="round" />
<polyline points="105,706 150,748.9 155.4,754.3 180.4,772.1 221.4,800.7 275,840 319.6,866.8 369.6,900" fill="none" stroke="#000" stroke-width="2.5" stroke-linejoin="round" stroke-linecap="round" />
<polygon points="512,800 585,821 556,830 546,835 543,916 540,919 535,888 540,835" fill="#8b5e34" stroke="#000" stroke-width="1" stroke-linejoin="round" />
<polyline points="668.6,844.6 668.6,871.4 665,925 659.6,969.6 657,1026.8 665,1039.3 660.7,1051.9 659.7,1067.6 662.7,1083.3 656.8,1106.8 662,1117" fill="none" stroke="#000" stroke-width="2.5" stroke-linejoin="round" stroke-linecap="round" />
<polyline points="675.7,845.5 688.2,842 696.3,841.4 697.1,848.2 700.7,850 697.1,858.9 691.8,869.6 681.1,873.2 681.1,898.2 672.1,907.1 670.4,921.4 676.6,928.6 672.1,942.9 666.8,969.6 665.9,996.4 665,1041" fill="none" stroke="#000" stroke-width="2.5" stroke-linejoin="round" stroke-linecap="round" />
<polygon points="1886,1747 2027,1688 2262,1571 2278,1557 2278,1554 2294,1532 2319,1506 2335,1501 2351,1489 2370,1493 2389,1495 2405,1489 2431,1469 2453,1465 2510,1436 2546,1415 2565,1399 2613,1383 2641,1355 2654,1342 2673,1337 2689,1324 2711,1313 2724,1304 2737,1292 2750,1292 2750,1286 2804,1265 2805,1423 2638,1516 2638,1492 2514,1560 1886,1910" fill="#bee5f5" stroke="none" stroke-width="0" stroke-linejoin="round" />
<polygon points="1886,1910 2514,1560 2638,1492 2638,1516 2805,1423 2805,1438 1886,1955" fill="#f2f2f2" stroke="none" stroke-width="0" stroke-linejoin="round" />
<polyline points="1886,1925 2638,1505.35" fill="none" stroke="#111" stroke-width="2.6" stroke-linejoin="round" stroke-linecap="round" stroke-dasharray="26 13" stroke-linecap="butt"/>
<polyline points="1886,1940 2638,1518.7" fill="none" stroke="#111" stroke-width="2.6" stroke-linejoin="round" stroke-linecap="round" stroke-dasharray="26 13" stroke-linecap="butt"/>
<polyline points="1654.8,1703.8 1752.8,1760.7 1880.2,1824.6 2003.7,1758.7 2300,1601.1" fill="none" stroke="#1e4b5a" stroke-width="2" stroke-linejoin="round" stroke-linecap="round" />
<polyline points="1925.3,1750.9 1925.3,1801.8" fill="none" stroke="#1e4b5a" stroke-width="2" stroke-linejoin="round" stroke-linecap="round" />
<polyline points="1999.7,1760.7 1997.8,1844.9" fill="none" stroke="#1e4b5a" stroke-width="2" stroke-linejoin="round" stroke-linecap="round" />
<polyline points="2017.4,1699.9 2017.4,1748.9" fill="none" stroke="#1e4b5a" stroke-width="2" stroke-linejoin="round" stroke-linecap="round" />
<polyline points="2111.5,1696 2111.5,1782.2" fill="none" stroke="#1e4b5a" stroke-width="2" stroke-linejoin="round" stroke-linecap="round" />
<polyline points="2107.5,1658.8 2107.5,1699.9" fill="none" stroke="#1e4b5a" stroke-width="2" stroke-linejoin="round" stroke-linecap="round" />
<polyline points="2193.8,1617.6 2193.8,1650.9" fill="none" stroke="#1e4b5a" stroke-width="2" stroke-linejoin="round" stroke-linecap="round" />
<polyline points="2223.2,1639.2 2223.2,1723.4" fill="none" stroke="#1e4b5a" stroke-width="2" stroke-linejoin="round" stroke-linecap="round" />
<polyline points="2272.2,1562.7 2272.2,1609.8" fill="none" stroke="#1e4b5a" stroke-width="2" stroke-linejoin="round" stroke-linecap="round" />
<polyline points="1854.7,1813.6 1854.7,1892" fill="none" stroke="#1e4b5a" stroke-width="2" stroke-linejoin="round" stroke-linecap="round" />
<polyline points="1756.7,1760.7 1750.8,1837.1" fill="none" stroke="#1e4b5a" stroke-width="2" stroke-linejoin="round" stroke-linecap="round" />
<polyline points="1772.4,1727.4 1772.4,1766.6" fill="none" stroke="#1e4b5a" stroke-width="2" stroke-linejoin="round" stroke-linecap="round" />
<polyline points="1656.8,1703.8 1647,1782.2" fill="none" stroke="#1e4b5a" stroke-width="2" stroke-linejoin="round" stroke-linecap="round" />
<polyline points="1658.7,1652.9 1654.8,1699.9" fill="none" stroke="#1e4b5a" stroke-width="2" stroke-linejoin="round" stroke-linecap="round" />
<polyline points="1560.7,1647 1547,1723.4" fill="none" stroke="#1e4b5a" stroke-width="2" stroke-linejoin="round" stroke-linecap="round" />
<polyline points="1550.9,1582.3 1547,1637.2" fill="none" stroke="#1e4b5a" stroke-width="2" stroke-linejoin="round" stroke-linecap="round" />
<polyline points="1466.6,1578.4 1452.9,1645" fill="none" stroke="#1e4b5a" stroke-width="2" stroke-linejoin="round" stroke-linecap="round" />
<polyline points="1425.5,1500 1423.5,1539.2" fill="none" stroke="#1e4b5a" stroke-width="2" stroke-linejoin="round" stroke-linecap="round" />
<polyline points="1549,1582.3 1596,1621.5 1654.8,1652.9 1705.7,1678.4 1733.2,1684.2 1752.8,1699.9 1768.5,1719.5 1811.6,1735.2 1886.1,1770.5" fill="none" stroke="#1e4b5a" stroke-width="2" stroke-linejoin="round" stroke-linecap="round" />
<polyline points="2803.8,1294 2638,1380.1" fill="none" stroke="#1e4b5a" stroke-width="2" stroke-linejoin="round" stroke-linecap="round" />
<polyline points="2638,1407.2 2564.6,1447.1 2357.3,1560" fill="none" stroke="#1e4b5a" stroke-width="2" stroke-linejoin="round" stroke-linecap="round" />
<polyline points="2762.4,1282.8 2760.8,1314.7" fill="none" stroke="#1e4b5a" stroke-width="2" stroke-linejoin="round" stroke-linecap="round" />
<polyline points="2791.1,1303.6 2791.1,1343.4" fill="none" stroke="#1e4b5a" stroke-width="2" stroke-linejoin="round" stroke-linecap="round" />
<polyline points="2725.7,1337.1 2725.7,1373.7" fill="none" stroke="#1e4b5a" stroke-width="2" stroke-linejoin="round" stroke-linecap="round" />
<polyline points="2700.2,1314.7 2700.2,1351.4" fill="none" stroke="#1e4b5a" stroke-width="2" stroke-linejoin="round" stroke-linecap="round" />
<polyline points="2660.3,1372.1 2658.7,1420" fill="none" stroke="#1e4b5a" stroke-width="2" stroke-linejoin="round" stroke-linecap="round" />
<polyline points="2646,1356.2 2646,1378.5" fill="none" stroke="#1e4b5a" stroke-width="2" stroke-linejoin="round" stroke-linecap="round" />
<polyline points="2749.6,1392.9 2749.6,1455.1" fill="none" stroke="#1e4b5a" stroke-width="2" stroke-linejoin="round" stroke-linecap="round" />
<polyline points="2652.3,1445.5 2652.3,1509.3" fill="none" stroke="#1e4b5a" stroke-width="2" stroke-linejoin="round" stroke-linecap="round" />
<polyline points="2583.8,1399.2 2583.8,1435.9" fill="none" stroke="#1e4b5a" stroke-width="2" stroke-linejoin="round" stroke-linecap="round" />
<polyline points="2566.2,1447.1 2566.2,1531.6" fill="none" stroke="#1e4b5a" stroke-width="2" stroke-linejoin="round" stroke-linecap="round" />
<polyline points="2510.4,1437.5 2510.4,1474.2" fill="none" stroke="#1e4b5a" stroke-width="2" stroke-linejoin="round" stroke-linecap="round" />
<polyline points="2437.1,1471 2437.1,1517.3" fill="none" stroke="#1e4b5a" stroke-width="2" stroke-linejoin="round" stroke-linecap="round" />
<polyline points="2453,1509.3 2453,1560" fill="none" stroke="#1e4b5a" stroke-width="2" stroke-linejoin="round" stroke-linecap="round" />
<polyline points="2355.7,1509.3 2355.7,1560" fill="none" stroke="#1e4b5a" stroke-width="2" stroke-linejoin="round" stroke-linecap="round" />
<polyline points="2335,1502.9 2335,1520.5" fill="none" stroke="#1e4b5a" stroke-width="2" stroke-linejoin="round" stroke-linecap="round" />
<polyline points="2298.3,1528.4 2298.3,1541.2" fill="none" stroke="#1e4b5a" stroke-width="2" stroke-linejoin="round" stroke-linecap="round" />
<polyline points="2638,1356.2 2638,1531.6" fill="none" stroke="#1e4b5a" stroke-width="2" stroke-linejoin="round" stroke-linecap="round" />
<polyline points="2638,1429.5 2805.4,1338.6" fill="none" stroke="#1e4b5a" stroke-width="4" stroke-linejoin="round" stroke-linecap="round" />
<polyline points="2638,1448.7 2805.4,1361" fill="none" stroke="#1e4b5a" stroke-width="4" stroke-linejoin="round" stroke-linecap="round" />
<polyline points="2648,1434 2796,1355" fill="none" stroke="#1e4b5a" stroke-width="2.5" stroke-linejoin="round" stroke-linecap="round" stroke-dasharray="19 13"/>
<polyline points="2804,1265 2750,1286 2750,1292 2737,1292 2724,1304 2711,1313 2689,1324 2673,1337 2654,1342 2641,1355 2613,1383 2565,1399 2546,1415 2510,1436 2453,1465 2431,1469 2405,1489 2389,1495 2370,1493 2351,1489 2335,1501 2319,1506 2294,1532 2278,1554" fill="none" stroke="#1e4b5a" stroke-width="2" stroke-linejoin="round" stroke-linecap="round" />
<polyline points="2805.4,1338.6 2805.4,1361" fill="none" stroke="#1e4b5a" stroke-width="4" stroke-linejoin="round" stroke-linecap="round" />
<polygon points="1552,1577 1768,1667 1886,1723 2278,1555 2262,1571 2027,1688 1886,1747 1839,1704 1768,1688 1706,1678 1596,1618 1549,1578" fill="#f3d5b8" stroke="none" stroke-width="0" stroke-linejoin="round" />
<polygon points="1729,1684 1753,1708 1772,1727 1812,1735 1886,1770 1925,1751 1957,1727 1886,1747 1839,1704 1768,1688" fill="#bbd8bc" stroke="none" stroke-width="0" stroke-linejoin="round" />
<polyline points="1764.5,1690.1 1766.5,1719.5" fill="none" stroke="#888" stroke-width="2" stroke-linejoin="round" stroke-linecap="round" />
<polyline points="1813.5,1713.6 1813.5,1735.2" fill="none" stroke="#888" stroke-width="2" stroke-linejoin="round" stroke-linecap="round" />
<polyline points="1860.6,1739.1 1860.6,1760.7" fill="none" stroke="#888" stroke-width="2" stroke-linejoin="round" stroke-linecap="round" />
<polyline points="1905.7,1739.1 1905.7,1758.7" fill="none" stroke="#888" stroke-width="2" stroke-linejoin="round" stroke-linecap="round" />
<polyline points="1956.6,1723.4 1956.6,1733.2" fill="none" stroke="#888" stroke-width="2" stroke-linejoin="round" stroke-linecap="round" />
<polygon points="1532,1549 1618,1532 1695,1504 1776,1469 1828,1463 1912,1465 1928,1467 1933,1472 1958,1483 1972,1504 1977,1535 1979,1553 1968,1563 1944,1569 1930,1576 1923,1588 1905,1595 1888,1609 1863,1623 1818,1637 1800,1647 1793,1661 1769,1667 1552,1577" fill="#29a8e0" stroke="#000" stroke-width="1.3" stroke-linejoin="round" />
<polyline points="1532,1549 1769,1667" fill="none" stroke="#000" stroke-width="1.3" stroke-linejoin="round" stroke-linecap="round" />
<polyline points="1769,1667 1886,1723 2278,1555" fill="none" stroke="#000" stroke-width="1.3" stroke-linejoin="round" stroke-linecap="round" />
<polyline points="1552,1577 1596,1618 1706,1678 1768,1688 1839,1704 1886,1747 2027,1688 2262,1571" fill="none" stroke="#5a6a60" stroke-width="1" stroke-linejoin="round" stroke-linecap="round" />
<polyline points="53.5,540.1 65.8,543.6 71.9,556.7 79.8,544.5 85,544.5 95.5,557.6 106,563.7 120,570.8 121.8,582.1 130.6,596.1 135.8,634.7 144.6,583.9 151.6,578.6 162.1,589.1 165.6,641.7 176.1,622.4 191.9,596.1 200.6,596.1 214.6,606.7 214.6,618.9 219.9,664.4 232.1,617.2 253.2,632.9 261.9,639.9 265.4,659.2 281.2,648.7 288.2,662.7 302.2,660.9 302.2,669.7 306.4,669.2 323,681 340.4,696.2 358.5,706.3 376.5,703.3 396.5,708.3 416.6,737.3 440.6,741.3 488.7,770.4 509,800 587,821 615,818 637,835 668,841 694,844 700,860 744,872 813,904 879,941 951,967 1001,992 1020,1023 1054,1042 1169,1074 1279,1114 1296,1158 1318,1223 1340,1263 1375,1302 1384,1333 1392,1346 1406,1398 1454,1455" fill="none" stroke="#000" stroke-width="1.6" stroke-linejoin="round" stroke-linecap="round" />
<polyline points="53,538 48,940 1886,1955 2805,1438 2804,1259" fill="none" stroke="#000" stroke-width="1.5" stroke-linejoin="round" stroke-linecap="round" />
<polyline points="1886,1747 1886,1955" fill="none" stroke="#1e4b5a" stroke-width="1.5" stroke-linejoin="round" stroke-linecap="round" />
<polygon points="1023.1,466.7 1030.24,487.7 1015.96,487.7" fill="#0f6834" stroke="#000" stroke-width="1.1" stroke-linejoin="round" />
<polyline points="1023.1,487.7 1023.1,494.42" fill="none" stroke="#111" stroke-width="1.8" stroke-linejoin="round" stroke-linecap="round" />
<polygon points="1059,454.4 1068.55,482.5 1049.45,482.5" fill="#0f6834" stroke="#000" stroke-width="1.1" stroke-linejoin="round" />
<polyline points="1059,482.5 1059,491.492" fill="none" stroke="#111" stroke-width="1.8" stroke-linejoin="round" stroke-linecap="round" />
<polygon points="1029.2,489.5 1038.41,516.6 1019.99,516.6" fill="#0f6834" stroke="#000" stroke-width="1.1" stroke-linejoin="round" />
<polyline points="1029.2,516.6 1029.2,525.272" fill="none" stroke="#111" stroke-width="1.8" stroke-linejoin="round" stroke-linecap="round" />
<polygon points="1047.6,497.3 1057.15,525.4 1038.05,525.4" fill="#0f6834" stroke="#000" stroke-width="1.1" stroke-linejoin="round" />
<polyline points="1047.6,525.4 1047.6,534.392" fill="none" stroke="#111" stroke-width="1.8" stroke-linejoin="round" stroke-linecap="round" />
<polygon points="1078.3,500.8 1085.17,521 1071.43,521" fill="#0f6834" stroke="#000" stroke-width="1.1" stroke-linejoin="round" />
<polyline points="1078.3,521 1078.3,527.464" fill="none" stroke="#111" stroke-width="1.8" stroke-linejoin="round" stroke-linecap="round" />
<polygon points="1092.3,478.1 1100.02,500.8 1084.58,500.8" fill="#0f6834" stroke="#000" stroke-width="1.1" stroke-linejoin="round" />
<polyline points="1092.3,500.8 1092.3,508.064" fill="none" stroke="#111" stroke-width="1.8" stroke-linejoin="round" stroke-linecap="round" />
<polygon points="1071.3,525.4 1078.75,547.3 1063.85,547.3" fill="#0f6834" stroke="#000" stroke-width="1.1" stroke-linejoin="round" />
<polyline points="1071.3,547.3 1071.3,554.308" fill="none" stroke="#111" stroke-width="1.8" stroke-linejoin="round" stroke-linecap="round" />
<polygon points="1089.7,521.9 1096.84,542.9 1082.56,542.9" fill="#0f6834" stroke="#000" stroke-width="1.1" stroke-linejoin="round" />
<polyline points="1089.7,542.9 1089.7,549.62" fill="none" stroke="#111" stroke-width="1.8" stroke-linejoin="round" stroke-linecap="round" />
<polygon points="1117,501 1126.52,529 1107.48,529" fill="#0f6834" stroke="#000" stroke-width="1.1" stroke-linejoin="round" />
<polyline points="1117,529 1117,537.96" fill="none" stroke="#111" stroke-width="1.8" stroke-linejoin="round" stroke-linecap="round" />
<polygon points="727,607 737.2,637 716.8,637" fill="#0f6834" stroke="#000" stroke-width="1.1" stroke-linejoin="round" />
<polyline points="727,637 727,646.6" fill="none" stroke="#111" stroke-width="1.8" stroke-linejoin="round" stroke-linecap="round" />
<polygon points="822,623 832.2,653 811.8,653" fill="#0f6834" stroke="#000" stroke-width="1.1" stroke-linejoin="round" />
<polyline points="822,653 822,662.6" fill="none" stroke="#111" stroke-width="1.8" stroke-linejoin="round" stroke-linecap="round" />
<polygon points="861,606 868.48,628 853.52,628" fill="#0f6834" stroke="#000" stroke-width="1.1" stroke-linejoin="round" />
<polyline points="861,628 861,635.04" fill="none" stroke="#111" stroke-width="1.8" stroke-linejoin="round" stroke-linecap="round" />
<polygon points="785,648 794.52,676 775.48,676" fill="#0f6834" stroke="#000" stroke-width="1.1" stroke-linejoin="round" />
<polyline points="785,676 785,684.96" fill="none" stroke="#111" stroke-width="1.8" stroke-linejoin="round" stroke-linecap="round" />
<polygon points="854,640 864.2,670 843.8,670" fill="#0f6834" stroke="#000" stroke-width="1.1" stroke-linejoin="round" />
<polyline points="854,670 854,679.6" fill="none" stroke="#111" stroke-width="1.8" stroke-linejoin="round" stroke-linecap="round" />
<polygon points="885,636 894.86,665 875.14,665" fill="#0f6834" stroke="#000" stroke-width="1.1" stroke-linejoin="round" />
<polyline points="885,665 885,674.28" fill="none" stroke="#111" stroke-width="1.8" stroke-linejoin="round" stroke-linecap="round" />
<polygon points="766,667 775.52,695 756.48,695" fill="#0f6834" stroke="#000" stroke-width="1.1" stroke-linejoin="round" />
<polyline points="766,695 766,703.96" fill="none" stroke="#111" stroke-width="1.8" stroke-linejoin="round" stroke-linecap="round" />
<polygon points="821,681 828.48,703 813.52,703" fill="#0f6834" stroke="#000" stroke-width="1.1" stroke-linejoin="round" />
<polyline points="821,703 821,710.04" fill="none" stroke="#111" stroke-width="1.8" stroke-linejoin="round" stroke-linecap="round" />
<polygon points="904,667 911.48,689 896.52,689" fill="#0f6834" stroke="#000" stroke-width="1.1" stroke-linejoin="round" />
<polyline points="904,689 904,696.04" fill="none" stroke="#111" stroke-width="1.8" stroke-linejoin="round" stroke-linecap="round" />
<polygon points="871,683 880.86,712 861.14,712" fill="#0f6834" stroke="#000" stroke-width="1.1" stroke-linejoin="round" />
<polyline points="871,712 871,721.28" fill="none" stroke="#111" stroke-width="1.8" stroke-linejoin="round" stroke-linecap="round" />
<polygon points="841,700 848.48,722 833.52,722" fill="#0f6834" stroke="#000" stroke-width="1.1" stroke-linejoin="round" />
<polyline points="841,722 841,729.04" fill="none" stroke="#111" stroke-width="1.8" stroke-linejoin="round" stroke-linecap="round" />
<polygon points="1459,1161 1468.52,1189 1449.48,1189" fill="#0f6834" stroke="#000" stroke-width="1.1" stroke-linejoin="round" />
<polyline points="1459,1189 1459,1197.96" fill="none" stroke="#111" stroke-width="1.8" stroke-linejoin="round" stroke-linecap="round" />
<polygon points="1475,1178 1484.52,1206 1465.48,1206" fill="#0f6834" stroke="#000" stroke-width="1.1" stroke-linejoin="round" />
<polyline points="1475,1206 1475,1214.96" fill="none" stroke="#111" stroke-width="1.8" stroke-linejoin="round" stroke-linecap="round" />
<polygon points="1494,1196 1503.52,1224 1484.48,1224" fill="#0f6834" stroke="#000" stroke-width="1.1" stroke-linejoin="round" />
<polyline points="1494,1224 1494,1232.96" fill="none" stroke="#111" stroke-width="1.8" stroke-linejoin="round" stroke-linecap="round" />
<polygon points="1522,1210 1529.48,1232 1514.52,1232" fill="#0f6834" stroke="#000" stroke-width="1.1" stroke-linejoin="round" />
<polyline points="1522,1232 1522,1239.04" fill="none" stroke="#111" stroke-width="1.8" stroke-linejoin="round" stroke-linecap="round" />
<polygon points="1543,1227 1550.82,1250 1535.18,1250" fill="#0f6834" stroke="#000" stroke-width="1.1" stroke-linejoin="round" />
<polyline points="1543,1250 1543,1257.36" fill="none" stroke="#111" stroke-width="1.8" stroke-linejoin="round" stroke-linecap="round" />
<polygon points="1508,1239 1517.52,1267 1498.48,1267" fill="#0f6834" stroke="#000" stroke-width="1.1" stroke-linejoin="round" />
<polyline points="1508,1267 1508,1275.96" fill="none" stroke="#111" stroke-width="1.8" stroke-linejoin="round" stroke-linecap="round" />
<polygon points="1613,1239 1622.52,1267 1603.48,1267" fill="#0f6834" stroke="#000" stroke-width="1.1" stroke-linejoin="round" />
<polyline points="1613,1267 1613,1275.96" fill="none" stroke="#111" stroke-width="1.8" stroke-linejoin="round" stroke-linecap="round" />
<polygon points="1548,1262 1557.52,1290 1538.48,1290" fill="#0f6834" stroke="#000" stroke-width="1.1" stroke-linejoin="round" />
<polyline points="1548,1290 1548,1298.96" fill="none" stroke="#111" stroke-width="1.8" stroke-linejoin="round" stroke-linecap="round" />
<polygon points="1585,1253 1592.82,1276 1577.18,1276" fill="#0f6834" stroke="#000" stroke-width="1.1" stroke-linejoin="round" />
<polyline points="1585,1276 1585,1283.36" fill="none" stroke="#111" stroke-width="1.8" stroke-linejoin="round" stroke-linecap="round" />
<polygon points="1532,1276 1541.52,1304 1522.48,1304" fill="#0f6834" stroke="#000" stroke-width="1.1" stroke-linejoin="round" />
<polyline points="1532,1304 1532,1312.96" fill="none" stroke="#111" stroke-width="1.8" stroke-linejoin="round" stroke-linecap="round" />
<polygon points="1574,1281 1583.52,1309 1564.48,1309" fill="#0f6834" stroke="#000" stroke-width="1.1" stroke-linejoin="round" />
<polyline points="1574,1309 1574,1317.96" fill="none" stroke="#111" stroke-width="1.8" stroke-linejoin="round" stroke-linecap="round" />
<polygon points="1623,1269 1632.52,1297 1613.48,1297" fill="#0f6834" stroke="#000" stroke-width="1.1" stroke-linejoin="round" />
<polyline points="1623,1297 1623,1305.96" fill="none" stroke="#111" stroke-width="1.8" stroke-linejoin="round" stroke-linecap="round" />
<polygon points="1545,1329 1552.14,1350 1537.86,1350" fill="#0f6834" stroke="#000" stroke-width="1.1" stroke-linejoin="round" />
<polyline points="1545,1350 1545,1356.72" fill="none" stroke="#111" stroke-width="1.8" stroke-linejoin="round" stroke-linecap="round" />
<polygon points="1564,1348 1570.46,1367 1557.54,1367" fill="#0f6834" stroke="#000" stroke-width="1.1" stroke-linejoin="round" />
<polyline points="1564,1367 1564,1373.08" fill="none" stroke="#111" stroke-width="1.8" stroke-linejoin="round" stroke-linecap="round" />
<polygon points="1548,1360 1557.52,1388 1538.48,1388" fill="#0f6834" stroke="#000" stroke-width="1.1" stroke-linejoin="round" />
<polyline points="1548,1388 1548,1396.96" fill="none" stroke="#111" stroke-width="1.8" stroke-linejoin="round" stroke-linecap="round" />
<polygon points="2181,1178 2190.52,1206 2171.48,1206" fill="#0f6834" stroke="#000" stroke-width="1.1" stroke-linejoin="round" />
<polyline points="2181,1206 2181,1214.96" fill="none" stroke="#111" stroke-width="1.8" stroke-linejoin="round" stroke-linecap="round" />
<polygon points="2212,1195 2221.86,1224 2202.14,1224" fill="#0f6834" stroke="#000" stroke-width="1.1" stroke-linejoin="round" />
<polyline points="2212,1224 2212,1233.28" fill="none" stroke="#111" stroke-width="1.8" stroke-linejoin="round" stroke-linecap="round" />
<polygon points="2247,1189 2254.48,1211 2239.52,1211" fill="#0f6834" stroke="#000" stroke-width="1.1" stroke-linejoin="round" />
<polyline points="2247,1211 2247,1218.04" fill="none" stroke="#111" stroke-width="1.8" stroke-linejoin="round" stroke-linecap="round" />
<polygon points="2273,1162 2282.52,1190 2263.48,1190" fill="#0f6834" stroke="#000" stroke-width="1.1" stroke-linejoin="round" />
<polyline points="2273,1190 2273,1198.96" fill="none" stroke="#111" stroke-width="1.8" stroke-linejoin="round" stroke-linecap="round" />
<polygon points="2299,1154 2308.52,1182 2289.48,1182" fill="#0f6834" stroke="#000" stroke-width="1.1" stroke-linejoin="round" />
<polyline points="2299,1182 2299,1190.96" fill="none" stroke="#111" stroke-width="1.8" stroke-linejoin="round" stroke-linecap="round" />
<polygon points="2326,1139 2333.14,1160 2318.86,1160" fill="#0f6834" stroke="#000" stroke-width="1.1" stroke-linejoin="round" />
<polyline points="2326,1160 2326,1166.72" fill="none" stroke="#111" stroke-width="1.8" stroke-linejoin="round" stroke-linecap="round" />
<polygon points="2349,1131 2358.86,1160 2339.14,1160" fill="#0f6834" stroke="#000" stroke-width="1.1" stroke-linejoin="round" />
<polyline points="2349,1160 2349,1169.28" fill="none" stroke="#111" stroke-width="1.8" stroke-linejoin="round" stroke-linecap="round" />
<polygon points="2319,1186 2328.18,1213 2309.82,1213" fill="#0f6834" stroke="#000" stroke-width="1.1" stroke-linejoin="round" />
<polyline points="2319,1213 2319,1221.64" fill="none" stroke="#111" stroke-width="1.8" stroke-linejoin="round" stroke-linecap="round" />
<polygon points="2353,1179 2362.18,1206 2343.82,1206" fill="#0f6834" stroke="#000" stroke-width="1.1" stroke-linejoin="round" />
<polyline points="2353,1206 2353,1214.64" fill="none" stroke="#111" stroke-width="1.8" stroke-linejoin="round" stroke-linecap="round" />
<polygon points="2286,1214 2293.14,1235 2278.86,1235" fill="#0f6834" stroke="#000" stroke-width="1.1" stroke-linejoin="round" />
<polyline points="2286,1235 2286,1241.72" fill="none" stroke="#111" stroke-width="1.8" stroke-linejoin="round" stroke-linecap="round" />
<polygon points="2335,1216 2344.86,1245 2325.14,1245" fill="#0f6834" stroke="#000" stroke-width="1.1" stroke-linejoin="round" />
<polyline points="2335,1245 2335,1254.28" fill="none" stroke="#111" stroke-width="1.8" stroke-linejoin="round" stroke-linecap="round" />
<polygon points="2306,1232 2313.48,1254 2298.52,1254" fill="#0f6834" stroke="#000" stroke-width="1.1" stroke-linejoin="round" />
<polyline points="2306,1254 2306,1261.04" fill="none" stroke="#111" stroke-width="1.8" stroke-linejoin="round" stroke-linecap="round" />
<polygon points="2289,1246 2298.86,1275 2279.14,1275" fill="#0f6834" stroke="#000" stroke-width="1.1" stroke-linejoin="round" />
<polyline points="2289,1275 2289,1284.28" fill="none" stroke="#111" stroke-width="1.8" stroke-linejoin="round" stroke-linecap="round" />
<line x1="237.5" y1="365" x2="237" y2="536" stroke="#000" stroke-width="3.2"/>
<polygon points="237,548 227,515 237,527.54" fill="#000" stroke="#000" stroke-width="1.2" stroke-linejoin="miter"/>
<polygon points="237,548 247,515 237,527.54" fill="#fff" stroke="#000" stroke-width="1.6" stroke-linejoin="miter"/>
<line x1="680" y1="317" x2="679.5" y2="848" stroke="#000" stroke-width="3.2"/>
<polygon points="679.5,860 669.5,827 679.5,839.54" fill="#000" stroke="#000" stroke-width="1.2" stroke-linejoin="miter"/>
<polygon points="679.5,860 689.5,827 679.5,839.54" fill="#fff" stroke="#000" stroke-width="1.6" stroke-linejoin="miter"/>
<line x1="1049" y1="223" x2="1048.7" y2="622" stroke="#000" stroke-width="3.2"/>
<polygon points="1048.7,634 1038.7,601 1048.7,613.54" fill="#000" stroke="#000" stroke-width="1.2" stroke-linejoin="miter"/>
<polygon points="1048.7,634 1058.7,601 1048.7,613.54" fill="#fff" stroke="#000" stroke-width="1.6" stroke-linejoin="miter"/>
<line x1="1270.7" y1="387" x2="1270" y2="811" stroke="#000" stroke-width="3.2"/>
<polygon points="1270,823 1260,790 1270,802.54" fill="#000" stroke="#000" stroke-width="1.2" stroke-linejoin="miter"/>
<polygon points="1270,823 1280,790 1270,802.54" fill="#fff" stroke="#000" stroke-width="1.6" stroke-linejoin="miter"/>
<line x1="1553" y1="257" x2="1553" y2="885" stroke="#000" stroke-width="3.2"/>
<polygon points="1553,897 1543,864 1553,876.54" fill="#000" stroke="#000" stroke-width="1.2" stroke-linejoin="miter"/>
<polygon points="1553,897 1563,864 1553,876.54" fill="#fff" stroke="#000" stroke-width="1.6" stroke-linejoin="miter"/>
<line x1="1640.5" y1="516" x2="1640.5" y2="660" stroke="#000" stroke-width="3.2"/>
<polygon points="1640.5,672 1630.5,639 1640.5,651.54" fill="#000" stroke="#000" stroke-width="1.2" stroke-linejoin="miter"/>
<polygon points="1640.5,672 1650.5,639 1640.5,651.54" fill="#fff" stroke="#000" stroke-width="1.6" stroke-linejoin="miter"/>
<line x1="617" y1="1397" x2="616.6" y2="1224" stroke="#000" stroke-width="3.2"/>
<polygon points="616.6,1212 606.6,1245 616.6,1232.46" fill="#000" stroke="#000" stroke-width="1.2" stroke-linejoin="miter"/>
<polygon points="616.6,1212 626.6,1245 616.6,1232.46" fill="#fff" stroke="#000" stroke-width="1.6" stroke-linejoin="miter"/>
<line x1="816.5" y1="1608" x2="815.6" y2="1056" stroke="#000" stroke-width="3.2"/>
<polygon points="815.6,1044 805.6,1077 815.6,1064.46" fill="#000" stroke="#000" stroke-width="1.2" stroke-linejoin="miter"/>
<polygon points="815.6,1044 825.6,1077 815.6,1064.46" fill="#fff" stroke="#000" stroke-width="1.6" stroke-linejoin="miter"/>
<line x1="1126" y1="1607" x2="1125.4" y2="1401" stroke="#000" stroke-width="3.2"/>
<polygon points="1125.4,1389 1115.4,1422 1125.4,1409.46" fill="#000" stroke="#000" stroke-width="1.2" stroke-linejoin="miter"/>
<polygon points="1125.4,1389 1135.4,1422 1125.4,1409.46" fill="#fff" stroke="#000" stroke-width="1.6" stroke-linejoin="miter"/>
<line x1="1355" y1="1768" x2="1355" y2="1323" stroke="#000" stroke-width="3.2"/>
<polygon points="1355,1311 1345,1344 1355,1331.46" fill="#000" stroke="#000" stroke-width="1.2" stroke-linejoin="miter"/>
<polygon points="1355,1311 1365,1344 1355,1331.46" fill="#fff" stroke="#000" stroke-width="1.6" stroke-linejoin="miter"/>
<line x1="2335.6" y1="1797" x2="2334" y2="1610" stroke="#000" stroke-width="3.2"/>
<polygon points="2334,1598 2324,1631 2334,1618.46" fill="#000" stroke="#000" stroke-width="1.2" stroke-linejoin="miter"/>
<polygon points="2334,1598 2344,1631 2334,1618.46" fill="#fff" stroke="#000" stroke-width="1.6" stroke-linejoin="miter"/>
<text x="237.7" y="341" font-size="50" text-anchor="middle">lapié</text>
<text x="680" y="295" font-size="50" text-anchor="middle">gouffre</text>
<text x="1049" y="191" font-size="50" text-anchor="middle">perte</text>
<text x="1263" y="361" font-size="50" text-anchor="middle">résurgence</text>
<text x="1553" y="229" font-size="50" text-anchor="middle">reculée</text>
<text x="1641" y="493" font-size="50" text-anchor="middle">doline</text>
<text x="611" y="1448" font-size="50" text-anchor="middle">niveaux</text>
<text x="617" y="1509" font-size="50" text-anchor="middle">imperméables</text>
<text x="817" y="1647" font-size="50" text-anchor="middle">Zone non saturée</text>
<text x="817" y="1696" font-size="40" text-anchor="middle">(calcaires secs)</text>
<text x="1126" y="1655" font-size="50" text-anchor="middle">réseau</text>
<text x="1126" y="1715" font-size="50" text-anchor="middle">karstique</text>
<text x="1357" y="1822" font-size="50" text-anchor="middle">grotte</text>
<text x="2336" y="1858" font-size="50" text-anchor="middle">zone saturée</text>
<text x="2336" y="1907" font-size="40" text-anchor="middle">(calcaires saturés</text>
<text x="2336" y="1957" font-size="40" text-anchor="middle">en eau)</text>
<text x="28" y="968" font-size="33" transform="rotate(28 28 968)">Source : Bichet et Campy, 2008, modifié</text>
</svg></body></html>
